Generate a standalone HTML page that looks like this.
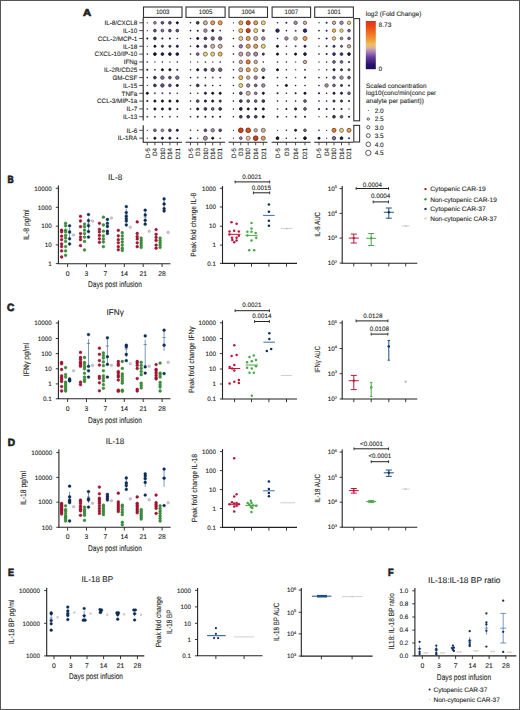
<!DOCTYPE html>
<html><head><meta charset="utf-8"><style>
html,body{margin:0;padding:0;background:#fff;}
body{width:520px;height:710px;overflow:hidden;}
svg{display:block;font-family:"Liberation Sans", sans-serif;}
text{stroke:#1e1e1e;stroke-width:0.1px;text-rendering:geometricPrecision;}
</style></head><body>
<svg width="520" height="710" viewBox="0 0 520 710">
<rect x="0" y="0" width="520" height="710" fill="#fff"/>
<text x="83" y="16.15" font-size="10" text-anchor="start" fill="#1e1e1e" font-weight="bold" textLength="8.2" lengthAdjust="spacingAndGlyphs" style="stroke-width:0.7px">A</text>
<text x="137.3" y="25.07" font-size="6.3" text-anchor="end" fill="#1e1e1e">IL-8/CXCL8</text>
<line x1="139.2" y1="22.8" x2="143" y2="22.8" stroke="#222" stroke-width="0.8"/>
<text x="137.3" y="32.9" font-size="6.3" text-anchor="end" fill="#1e1e1e">IL-10</text>
<line x1="139.2" y1="30.63" x2="143" y2="30.63" stroke="#222" stroke-width="0.8"/>
<text x="137.3" y="40.73" font-size="6.3" text-anchor="end" fill="#1e1e1e">CCL-2/MCP-1</text>
<line x1="139.2" y1="38.46" x2="143" y2="38.46" stroke="#222" stroke-width="0.8"/>
<text x="137.3" y="48.56" font-size="6.3" text-anchor="end" fill="#1e1e1e">IL-18</text>
<line x1="139.2" y1="46.29" x2="143" y2="46.29" stroke="#222" stroke-width="0.8"/>
<text x="137.3" y="56.39" font-size="6.3" text-anchor="end" fill="#1e1e1e">CXCL-10/IP-10</text>
<line x1="139.2" y1="54.12" x2="143" y2="54.12" stroke="#222" stroke-width="0.8"/>
<text x="137.3" y="64.22" font-size="6.3" text-anchor="end" fill="#1e1e1e">IFNg</text>
<line x1="139.2" y1="61.95" x2="143" y2="61.95" stroke="#222" stroke-width="0.8"/>
<text x="137.3" y="72.05" font-size="6.3" text-anchor="end" fill="#1e1e1e">IL-2R/CD25</text>
<line x1="139.2" y1="69.78" x2="143" y2="69.78" stroke="#222" stroke-width="0.8"/>
<text x="137.3" y="79.88" font-size="6.3" text-anchor="end" fill="#1e1e1e">GM-CSF</text>
<line x1="139.2" y1="77.61" x2="143" y2="77.61" stroke="#222" stroke-width="0.8"/>
<text x="137.3" y="87.71" font-size="6.3" text-anchor="end" fill="#1e1e1e">IL-15</text>
<line x1="139.2" y1="85.44" x2="143" y2="85.44" stroke="#222" stroke-width="0.8"/>
<text x="137.3" y="95.54" font-size="6.3" text-anchor="end" fill="#1e1e1e">TNFa</text>
<line x1="139.2" y1="93.27" x2="143" y2="93.27" stroke="#222" stroke-width="0.8"/>
<text x="137.3" y="103.37" font-size="6.3" text-anchor="end" fill="#1e1e1e">CCL-3/MIP-1a</text>
<line x1="139.2" y1="101.1" x2="143" y2="101.1" stroke="#222" stroke-width="0.8"/>
<text x="137.3" y="111.2" font-size="6.3" text-anchor="end" fill="#1e1e1e">IL-7</text>
<line x1="139.2" y1="108.93" x2="143" y2="108.93" stroke="#222" stroke-width="0.8"/>
<text x="137.3" y="119.03" font-size="6.3" text-anchor="end" fill="#1e1e1e">IL-13</text>
<line x1="139.2" y1="116.76" x2="143" y2="116.76" stroke="#222" stroke-width="0.8"/>
<text x="137.3" y="132.57" font-size="6.3" text-anchor="end" fill="#1e1e1e">IL-6</text>
<line x1="139.2" y1="130.3" x2="143" y2="130.3" stroke="#222" stroke-width="0.8"/>
<text x="137.3" y="140.47" font-size="6.3" text-anchor="end" fill="#1e1e1e">IL-1RA</text>
<line x1="139.2" y1="138.2" x2="143" y2="138.2" stroke="#222" stroke-width="0.8"/>
<line x1="143.2" y1="17.4" x2="143.2" y2="120.4" stroke="#222" stroke-width="1.1"/>
<line x1="143.2" y1="125.2" x2="143.2" y2="142.4" stroke="#222" stroke-width="1.1"/>
<rect x="143.5" y="7" width="38.5" height="10.4" fill="#fff" stroke="#333" stroke-width="1.1"/>
<text x="162.75" y="14.04" font-size="6.5" text-anchor="middle" fill="#1e1e1e" textLength="13.5" lengthAdjust="spacingAndGlyphs">1003</text>
<line x1="143" y1="142.3" x2="182" y2="142.3" stroke="#222" stroke-width="1.1"/>
<line x1="147.3" y1="142.3" x2="147.3" y2="145.3" stroke="#222" stroke-width="0.8"/>
<text x="0" y="0" font-size="6.3" text-anchor="end" fill="#1e1e1e" transform="translate(149.5 148) rotate(-90)">D-5</text>
<line x1="154.9" y1="142.3" x2="154.9" y2="145.3" stroke="#222" stroke-width="0.8"/>
<text x="0" y="0" font-size="6.3" text-anchor="end" fill="#1e1e1e" transform="translate(157.1 148) rotate(-90)">D4</text>
<line x1="162.4" y1="142.3" x2="162.4" y2="145.3" stroke="#222" stroke-width="0.8"/>
<text x="0" y="0" font-size="6.3" text-anchor="end" fill="#1e1e1e" transform="translate(164.6 148) rotate(-90)">D10</text>
<line x1="169.9" y1="142.3" x2="169.9" y2="145.3" stroke="#222" stroke-width="0.8"/>
<text x="0" y="0" font-size="6.3" text-anchor="end" fill="#1e1e1e" transform="translate(172.1 148) rotate(-90)">D14</text>
<line x1="177.3" y1="142.3" x2="177.3" y2="145.3" stroke="#222" stroke-width="0.8"/>
<text x="0" y="0" font-size="6.3" text-anchor="end" fill="#1e1e1e" transform="translate(179.5 148) rotate(-90)">D21</text>
<rect x="186" y="7" width="39.1" height="10.4" fill="#fff" stroke="#333" stroke-width="1.1"/>
<text x="205.55" y="14.04" font-size="6.5" text-anchor="middle" fill="#1e1e1e" textLength="13.5" lengthAdjust="spacingAndGlyphs">1005</text>
<line x1="185.5" y1="142.3" x2="225.1" y2="142.3" stroke="#222" stroke-width="1.1"/>
<line x1="190.5" y1="142.3" x2="190.5" y2="145.3" stroke="#222" stroke-width="0.8"/>
<text x="0" y="0" font-size="6.3" text-anchor="end" fill="#1e1e1e" transform="translate(192.7 148) rotate(-90)">D-5</text>
<line x1="197.7" y1="142.3" x2="197.7" y2="145.3" stroke="#222" stroke-width="0.8"/>
<text x="0" y="0" font-size="6.3" text-anchor="end" fill="#1e1e1e" transform="translate(199.9 148) rotate(-90)">D3</text>
<line x1="205.4" y1="142.3" x2="205.4" y2="145.3" stroke="#222" stroke-width="0.8"/>
<text x="0" y="0" font-size="6.3" text-anchor="end" fill="#1e1e1e" transform="translate(207.6 148) rotate(-90)">D10</text>
<line x1="212.7" y1="142.3" x2="212.7" y2="145.3" stroke="#222" stroke-width="0.8"/>
<text x="0" y="0" font-size="6.3" text-anchor="end" fill="#1e1e1e" transform="translate(214.9 148) rotate(-90)">D14</text>
<line x1="220.2" y1="142.3" x2="220.2" y2="145.3" stroke="#222" stroke-width="0.8"/>
<text x="0" y="0" font-size="6.3" text-anchor="end" fill="#1e1e1e" transform="translate(222.4 148) rotate(-90)">D21</text>
<rect x="229" y="7" width="38.5" height="10.4" fill="#fff" stroke="#333" stroke-width="1.1"/>
<text x="248.25" y="14.04" font-size="6.5" text-anchor="middle" fill="#1e1e1e" textLength="13.5" lengthAdjust="spacingAndGlyphs">1004</text>
<line x1="228.5" y1="142.3" x2="267.5" y2="142.3" stroke="#222" stroke-width="1.1"/>
<line x1="233.4" y1="142.3" x2="233.4" y2="145.3" stroke="#222" stroke-width="0.8"/>
<text x="0" y="0" font-size="6.3" text-anchor="end" fill="#1e1e1e" transform="translate(235.6 148) rotate(-90)">D-5</text>
<line x1="240.8" y1="142.3" x2="240.8" y2="145.3" stroke="#222" stroke-width="0.8"/>
<text x="0" y="0" font-size="6.3" text-anchor="end" fill="#1e1e1e" transform="translate(243 148) rotate(-90)">D3</text>
<line x1="248.2" y1="142.3" x2="248.2" y2="145.3" stroke="#222" stroke-width="0.8"/>
<text x="0" y="0" font-size="6.3" text-anchor="end" fill="#1e1e1e" transform="translate(250.4 148) rotate(-90)">D10</text>
<line x1="255.7" y1="142.3" x2="255.7" y2="145.3" stroke="#222" stroke-width="0.8"/>
<text x="0" y="0" font-size="6.3" text-anchor="end" fill="#1e1e1e" transform="translate(257.9 148) rotate(-90)">D14</text>
<line x1="263.3" y1="142.3" x2="263.3" y2="145.3" stroke="#222" stroke-width="0.8"/>
<text x="0" y="0" font-size="6.3" text-anchor="end" fill="#1e1e1e" transform="translate(265.5 148) rotate(-90)">D21</text>
<rect x="272.1" y="7" width="38.5" height="10.4" fill="#fff" stroke="#333" stroke-width="1.1"/>
<text x="291.35" y="14.04" font-size="6.5" text-anchor="middle" fill="#1e1e1e" textLength="13.5" lengthAdjust="spacingAndGlyphs">1007</text>
<line x1="271.6" y1="142.3" x2="310.6" y2="142.3" stroke="#222" stroke-width="1.1"/>
<line x1="277.5" y1="142.3" x2="277.5" y2="145.3" stroke="#222" stroke-width="0.8"/>
<text x="0" y="0" font-size="6.3" text-anchor="end" fill="#1e1e1e" transform="translate(279.7 148) rotate(-90)">D-5</text>
<line x1="286.4" y1="142.3" x2="286.4" y2="145.3" stroke="#222" stroke-width="0.8"/>
<text x="0" y="0" font-size="6.3" text-anchor="end" fill="#1e1e1e" transform="translate(288.6 148) rotate(-90)">D3</text>
<line x1="295.6" y1="142.3" x2="295.6" y2="145.3" stroke="#222" stroke-width="0.8"/>
<text x="0" y="0" font-size="6.3" text-anchor="end" fill="#1e1e1e" transform="translate(297.8 148) rotate(-90)">D14</text>
<line x1="305" y1="142.3" x2="305" y2="145.3" stroke="#222" stroke-width="0.8"/>
<text x="0" y="0" font-size="6.3" text-anchor="end" fill="#1e1e1e" transform="translate(307.2 148) rotate(-90)">D21</text>
<rect x="314.7" y="7" width="38.7" height="10.4" fill="#fff" stroke="#333" stroke-width="1.1"/>
<text x="334.05" y="14.04" font-size="6.5" text-anchor="middle" fill="#1e1e1e" textLength="13.5" lengthAdjust="spacingAndGlyphs">1001</text>
<line x1="314.2" y1="142.3" x2="353.4" y2="142.3" stroke="#222" stroke-width="1.1"/>
<line x1="319" y1="142.3" x2="319" y2="145.3" stroke="#222" stroke-width="0.8"/>
<text x="0" y="0" font-size="6.3" text-anchor="end" fill="#1e1e1e" transform="translate(321.2 148) rotate(-90)">D-5</text>
<line x1="326.6" y1="142.3" x2="326.6" y2="145.3" stroke="#222" stroke-width="0.8"/>
<text x="0" y="0" font-size="6.3" text-anchor="end" fill="#1e1e1e" transform="translate(328.8 148) rotate(-90)">D4</text>
<line x1="334" y1="142.3" x2="334" y2="145.3" stroke="#222" stroke-width="0.8"/>
<text x="0" y="0" font-size="6.3" text-anchor="end" fill="#1e1e1e" transform="translate(336.2 148) rotate(-90)">D10</text>
<line x1="341.5" y1="142.3" x2="341.5" y2="145.3" stroke="#222" stroke-width="0.8"/>
<text x="0" y="0" font-size="6.3" text-anchor="end" fill="#1e1e1e" transform="translate(343.7 148) rotate(-90)">D14</text>
<line x1="349" y1="142.3" x2="349" y2="145.3" stroke="#222" stroke-width="0.8"/>
<text x="0" y="0" font-size="6.3" text-anchor="end" fill="#1e1e1e" transform="translate(351.2 148) rotate(-90)">D21</text>
<rect x="353.8" y="18.6" width="5.8" height="102.2" fill="#fff" stroke="#333" stroke-width="1.1"/>
<rect x="353.8" y="125.4" width="5.8" height="16.6" fill="#fff" stroke="#333" stroke-width="1.1"/>
<circle cx="147.3" cy="22.8" r="0.6" fill="#1a1430"/>
<circle cx="154.9" cy="22.8" r="1.35" fill="#a890a8" stroke="#5c4f5c" stroke-width="0.95"/>
<circle cx="162.4" cy="22.8" r="1.35" fill="#685682" stroke="#392f47" stroke-width="0.95"/>
<circle cx="169.9" cy="22.8" r="1.35" fill="#685682" stroke="#392f47" stroke-width="0.95"/>
<circle cx="177.3" cy="22.8" r="1.05" fill="#1a1430" stroke="#0e0b1a" stroke-width="0.95"/>
<circle cx="147.3" cy="30.63" r="0.6" fill="#1a1430"/>
<circle cx="154.9" cy="30.63" r="1.35" fill="#685682" stroke="#392f47" stroke-width="0.95"/>
<circle cx="162.4" cy="30.63" r="1.35" fill="#857096" stroke="#493d52" stroke-width="0.95"/>
<circle cx="169.9" cy="30.63" r="1.35" fill="#685682" stroke="#392f47" stroke-width="0.95"/>
<circle cx="177.3" cy="30.63" r="1.35" fill="#685682" stroke="#392f47" stroke-width="0.95"/>
<circle cx="147.3" cy="38.46" r="1" fill="#1a1430"/>
<circle cx="154.9" cy="38.46" r="1.35" fill="#4a3e64" stroke="#282237" stroke-width="0.95"/>
<circle cx="162.4" cy="38.46" r="1" fill="#1a1430"/>
<circle cx="169.9" cy="38.46" r="1" fill="#1a1430"/>
<circle cx="177.3" cy="38.46" r="0.8" fill="#1a1430"/>
<circle cx="147.3" cy="46.29" r="0.6" fill="#1a1430"/>
<circle cx="154.9" cy="46.29" r="1.05" fill="#1a1430" stroke="#0e0b1a" stroke-width="0.95"/>
<circle cx="162.4" cy="46.29" r="1.05" fill="#4a3e64" stroke="#282237" stroke-width="0.95"/>
<circle cx="169.9" cy="46.29" r="1.05" fill="#4a3e64" stroke="#282237" stroke-width="0.95"/>
<circle cx="177.3" cy="46.29" r="1.05" fill="#2a2050" stroke="#17112c" stroke-width="0.95"/>
<circle cx="147.3" cy="54.12" r="0.8" fill="#1a1430"/>
<circle cx="154.9" cy="54.12" r="1.35" fill="#1a1430" stroke="#0e0b1a" stroke-width="0.95"/>
<circle cx="162.4" cy="54.12" r="1.35" fill="#2a2050" stroke="#17112c" stroke-width="0.95"/>
<circle cx="169.9" cy="54.12" r="1.35" fill="#2a2050" stroke="#17112c" stroke-width="0.95"/>
<circle cx="177.3" cy="54.12" r="1.35" fill="#2a2050" stroke="#17112c" stroke-width="0.95"/>
<circle cx="147.3" cy="61.95" r="0.8" fill="#1a1430"/>
<circle cx="154.9" cy="61.95" r="0.8" fill="#5a5460"/>
<circle cx="162.4" cy="61.95" r="0.8" fill="#1a1430"/>
<circle cx="169.9" cy="61.95" r="0.8" fill="#5a5460"/>
<circle cx="177.3" cy="61.95" r="0.8" fill="#1a1430"/>
<circle cx="147.3" cy="69.78" r="1" fill="#1a1430"/>
<circle cx="154.9" cy="69.78" r="1" fill="#5a5460"/>
<circle cx="162.4" cy="69.78" r="1.05" fill="#1a1430" stroke="#0e0b1a" stroke-width="0.95"/>
<circle cx="169.9" cy="69.78" r="1.05" fill="#1a1430" stroke="#0e0b1a" stroke-width="0.95"/>
<circle cx="177.3" cy="69.78" r="1" fill="#1a1430"/>
<circle cx="147.3" cy="77.61" r="0.8" fill="#1a1430"/>
<circle cx="154.9" cy="77.61" r="1.35" fill="#4a3e64" stroke="#282237" stroke-width="0.95"/>
<circle cx="162.4" cy="77.61" r="1.7" fill="#857096" stroke="#493d52" stroke-width="0.95"/>
<circle cx="169.9" cy="77.61" r="1.35" fill="#685682" stroke="#392f47" stroke-width="0.95"/>
<circle cx="177.3" cy="77.61" r="1.7" fill="#857096" stroke="#493d52" stroke-width="0.95"/>
<circle cx="147.3" cy="85.44" r="0.6" fill="#1a1430"/>
<circle cx="154.9" cy="85.44" r="1.35" fill="#4a3e64" stroke="#282237" stroke-width="0.95"/>
<circle cx="162.4" cy="85.44" r="1.7" fill="#685682" stroke="#392f47" stroke-width="0.95"/>
<circle cx="169.9" cy="85.44" r="1.35" fill="#685682" stroke="#392f47" stroke-width="0.95"/>
<circle cx="177.3" cy="85.44" r="1.05" fill="#1a1430" stroke="#0e0b1a" stroke-width="0.95"/>
<circle cx="147.3" cy="93.27" r="1.05" fill="#1a1430" stroke="#0e0b1a" stroke-width="0.95"/>
<circle cx="154.9" cy="93.27" r="1" fill="#5a5460"/>
<circle cx="162.4" cy="93.27" r="1" fill="#4a3e64"/>
<circle cx="169.9" cy="93.27" r="1" fill="#4a3e64"/>
<circle cx="177.3" cy="93.27" r="0.8" fill="#1a1430"/>
<circle cx="147.3" cy="101.1" r="1" fill="#1a1430"/>
<circle cx="154.9" cy="101.1" r="1.05" fill="#1a1430" stroke="#0e0b1a" stroke-width="0.95"/>
<circle cx="162.4" cy="101.1" r="1.05" fill="#1a1430" stroke="#0e0b1a" stroke-width="0.95"/>
<circle cx="169.9" cy="101.1" r="1.05" fill="#1a1430" stroke="#0e0b1a" stroke-width="0.95"/>
<circle cx="177.3" cy="101.1" r="1.05" fill="#1a1430" stroke="#0e0b1a" stroke-width="0.95"/>
<circle cx="147.3" cy="108.93" r="0.8" fill="#1a1430"/>
<circle cx="154.9" cy="108.93" r="1.05" fill="#1a1430" stroke="#0e0b1a" stroke-width="0.95"/>
<circle cx="162.4" cy="108.93" r="1.05" fill="#2a2050" stroke="#17112c" stroke-width="0.95"/>
<circle cx="169.9" cy="108.93" r="1.05" fill="#1a1430" stroke="#0e0b1a" stroke-width="0.95"/>
<circle cx="177.3" cy="108.93" r="1" fill="#1a1430"/>
<circle cx="147.3" cy="116.76" r="1" fill="#5a5460"/>
<circle cx="154.9" cy="116.76" r="1" fill="#5a5460"/>
<circle cx="162.4" cy="116.76" r="0.8" fill="#1a1430"/>
<circle cx="169.9" cy="116.76" r="1" fill="#5a5460"/>
<circle cx="177.3" cy="116.76" r="0.8" fill="#1a1430"/>
<circle cx="147.3" cy="130.3" r="0.6" fill="#1a1430"/>
<circle cx="154.9" cy="130.3" r="1.35" fill="#857096" stroke="#493d52" stroke-width="0.95"/>
<circle cx="162.4" cy="130.3" r="1.35" fill="#a890a8" stroke="#5c4f5c" stroke-width="0.95"/>
<circle cx="169.9" cy="130.3" r="1.35" fill="#685682" stroke="#392f47" stroke-width="0.95"/>
<circle cx="177.3" cy="130.3" r="1.05" fill="#2a2050" stroke="#17112c" stroke-width="0.95"/>
<circle cx="147.3" cy="138.2" r="0.6" fill="#1a1430"/>
<circle cx="154.9" cy="138.2" r="1.05" fill="#1a1430" stroke="#0e0b1a" stroke-width="0.95"/>
<circle cx="162.4" cy="138.2" r="1.05" fill="#2a2050" stroke="#17112c" stroke-width="0.95"/>
<circle cx="169.9" cy="138.2" r="1.05" fill="#2a2050" stroke="#17112c" stroke-width="0.95"/>
<circle cx="177.3" cy="138.2" r="1" fill="#1a1430"/>
<circle cx="190.5" cy="22.8" r="0.8" fill="#1a1430"/>
<circle cx="197.7" cy="22.8" r="1.35" fill="#4a3e64" stroke="#282237" stroke-width="0.95"/>
<circle cx="205.4" cy="22.8" r="2" fill="#ccb4a8" stroke="#70635c" stroke-width="0.95"/>
<circle cx="212.7" cy="22.8" r="2" fill="#e8a060" stroke="#7f5834" stroke-width="0.95"/>
<circle cx="220.2" cy="22.8" r="2" fill="#e8a060" stroke="#7f5834" stroke-width="0.95"/>
<circle cx="190.5" cy="30.63" r="0.8" fill="#1a1430"/>
<circle cx="197.7" cy="30.63" r="1" fill="#1a1430"/>
<circle cx="205.4" cy="30.63" r="1.7" fill="#a890a8" stroke="#5c4f5c" stroke-width="0.95"/>
<circle cx="212.7" cy="30.63" r="1.05" fill="#2a2050" stroke="#17112c" stroke-width="0.95"/>
<circle cx="220.2" cy="30.63" r="0.8" fill="#1a1430"/>
<circle cx="190.5" cy="38.46" r="0.8" fill="#1a1430"/>
<circle cx="197.7" cy="38.46" r="1.05" fill="#1a1430" stroke="#0e0b1a" stroke-width="0.95"/>
<circle cx="205.4" cy="38.46" r="1.35" fill="#4a3e64" stroke="#282237" stroke-width="0.95"/>
<circle cx="212.7" cy="38.46" r="1.7" fill="#786a86" stroke="#423a49" stroke-width="0.95"/>
<circle cx="220.2" cy="38.46" r="1.7" fill="#786a86" stroke="#423a49" stroke-width="0.95"/>
<circle cx="190.5" cy="46.29" r="0.8" fill="#1a1430"/>
<circle cx="197.7" cy="46.29" r="1.05" fill="#1a1430" stroke="#0e0b1a" stroke-width="0.95"/>
<circle cx="205.4" cy="46.29" r="1.35" fill="#685682" stroke="#392f47" stroke-width="0.95"/>
<circle cx="212.7" cy="46.29" r="2" fill="#ccb4a8" stroke="#70635c" stroke-width="0.95"/>
<circle cx="220.2" cy="46.29" r="2" fill="#ccb4a8" stroke="#70635c" stroke-width="0.95"/>
<circle cx="190.5" cy="54.12" r="0.8" fill="#1a1430"/>
<circle cx="197.7" cy="54.12" r="1.35" fill="#857096" stroke="#493d52" stroke-width="0.95"/>
<circle cx="205.4" cy="54.12" r="2" fill="#e8d088" stroke="#7f724a" stroke-width="0.95"/>
<circle cx="212.7" cy="54.12" r="2" fill="#e8d088" stroke="#7f724a" stroke-width="0.95"/>
<circle cx="220.2" cy="54.12" r="2" fill="#f0bc60" stroke="#846734" stroke-width="0.95"/>
<circle cx="190.5" cy="61.95" r="0.6" fill="#1a1430"/>
<circle cx="197.7" cy="61.95" r="0.8" fill="#5a5460"/>
<circle cx="205.4" cy="61.95" r="0.8" fill="#1a1430"/>
<circle cx="212.7" cy="61.95" r="0.8" fill="#5a5460"/>
<circle cx="220.2" cy="61.95" r="0.8" fill="#1a1430"/>
<circle cx="190.5" cy="69.78" r="0.8" fill="#1a1430"/>
<circle cx="197.7" cy="69.78" r="1.05" fill="#1a1430" stroke="#0e0b1a" stroke-width="0.95"/>
<circle cx="205.4" cy="69.78" r="1.35" fill="#4a3e64" stroke="#282237" stroke-width="0.95"/>
<circle cx="212.7" cy="69.78" r="1.7" fill="#786a86" stroke="#423a49" stroke-width="0.95"/>
<circle cx="220.2" cy="69.78" r="1.7" fill="#786a86" stroke="#423a49" stroke-width="0.95"/>
<circle cx="190.5" cy="77.61" r="0.8" fill="#1a1430"/>
<circle cx="197.7" cy="77.61" r="1" fill="#5a5460"/>
<circle cx="205.4" cy="77.61" r="0.8" fill="#1a1430"/>
<circle cx="212.7" cy="77.61" r="1" fill="#5a5460"/>
<circle cx="220.2" cy="77.61" r="0.8" fill="#1a1430"/>
<circle cx="190.5" cy="85.44" r="0.8" fill="#1a1430"/>
<circle cx="197.7" cy="85.44" r="1.35" fill="#4a3e64" stroke="#282237" stroke-width="0.95"/>
<circle cx="205.4" cy="85.44" r="1" fill="#1a1430"/>
<circle cx="212.7" cy="85.44" r="0.8" fill="#1a1430"/>
<circle cx="220.2" cy="85.44" r="0.8" fill="#1a1430"/>
<circle cx="190.5" cy="93.27" r="0.8" fill="#1a1430"/>
<circle cx="197.7" cy="93.27" r="0.8" fill="#1a1430"/>
<circle cx="205.4" cy="93.27" r="1.05" fill="#2a2050" stroke="#17112c" stroke-width="0.95"/>
<circle cx="212.7" cy="93.27" r="1.05" fill="#1a1430" stroke="#0e0b1a" stroke-width="0.95"/>
<circle cx="220.2" cy="93.27" r="1.05" fill="#1a1430" stroke="#0e0b1a" stroke-width="0.95"/>
<circle cx="190.5" cy="101.1" r="0.8" fill="#1a1430"/>
<circle cx="197.7" cy="101.1" r="1.35" fill="#685682" stroke="#392f47" stroke-width="0.95"/>
<circle cx="205.4" cy="101.1" r="1.05" fill="#2a2050" stroke="#17112c" stroke-width="0.95"/>
<circle cx="212.7" cy="101.1" r="1.05" fill="#2a2050" stroke="#17112c" stroke-width="0.95"/>
<circle cx="220.2" cy="101.1" r="1.05" fill="#4a3e64" stroke="#282237" stroke-width="0.95"/>
<circle cx="190.5" cy="108.93" r="0.8" fill="#1a1430"/>
<circle cx="197.7" cy="108.93" r="1.05" fill="#1a1430" stroke="#0e0b1a" stroke-width="0.95"/>
<circle cx="205.4" cy="108.93" r="1.35" fill="#4a3e64" stroke="#282237" stroke-width="0.95"/>
<circle cx="212.7" cy="108.93" r="1.35" fill="#786a86" stroke="#423a49" stroke-width="0.95"/>
<circle cx="220.2" cy="108.93" r="1.35" fill="#4a3e64" stroke="#282237" stroke-width="0.95"/>
<circle cx="190.5" cy="116.76" r="0.8" fill="#1a1430"/>
<circle cx="197.7" cy="116.76" r="1" fill="#1a1430"/>
<circle cx="205.4" cy="116.76" r="1" fill="#1a1430"/>
<circle cx="212.7" cy="116.76" r="1" fill="#1a1430"/>
<circle cx="220.2" cy="116.76" r="1" fill="#1a1430"/>
<circle cx="190.5" cy="130.3" r="0.8" fill="#1a1430"/>
<circle cx="197.7" cy="130.3" r="0.8" fill="#1a1430"/>
<circle cx="205.4" cy="130.3" r="1.35" fill="#685682" stroke="#392f47" stroke-width="0.95"/>
<circle cx="212.7" cy="130.3" r="1.7" fill="#a890a8" stroke="#5c4f5c" stroke-width="0.95"/>
<circle cx="220.2" cy="130.3" r="1.35" fill="#685682" stroke="#392f47" stroke-width="0.95"/>
<circle cx="190.5" cy="138.2" r="1" fill="#1a1430"/>
<circle cx="197.7" cy="138.2" r="0.8" fill="#5a5460"/>
<circle cx="205.4" cy="138.2" r="2" fill="#a890a8" stroke="#5c4f5c" stroke-width="0.95"/>
<circle cx="212.7" cy="138.2" r="1.05" fill="#1a1430" stroke="#0e0b1a" stroke-width="0.95"/>
<circle cx="220.2" cy="138.2" r="0.8" fill="#1a1430"/>
<circle cx="233.4" cy="22.8" r="0.6" fill="#1a1430"/>
<circle cx="240.8" cy="22.8" r="2" fill="#e8a060" stroke="#7f5834" stroke-width="0.95"/>
<circle cx="248.2" cy="22.8" r="2" fill="#dc5020" stroke="#792c11" stroke-width="0.95"/>
<circle cx="255.7" cy="22.8" r="2" fill="#e8a060" stroke="#7f5834" stroke-width="0.95"/>
<circle cx="263.3" cy="22.8" r="2" fill="#e8d088" stroke="#7f724a" stroke-width="0.95"/>
<circle cx="233.4" cy="30.63" r="0.6" fill="#1a1430"/>
<circle cx="240.8" cy="30.63" r="2" fill="#f0bc60" stroke="#846734" stroke-width="0.95"/>
<circle cx="248.2" cy="30.63" r="2" fill="#d4401a" stroke="#74230e" stroke-width="0.95"/>
<circle cx="255.7" cy="30.63" r="2" fill="#e8d088" stroke="#7f724a" stroke-width="0.95"/>
<circle cx="263.3" cy="30.63" r="1.05" fill="#685682" stroke="#392f47" stroke-width="0.95"/>
<circle cx="233.4" cy="38.46" r="0.8" fill="#1a1430"/>
<circle cx="240.8" cy="38.46" r="2" fill="#eec49a" stroke="#826b54" stroke-width="0.95"/>
<circle cx="248.2" cy="38.46" r="2" fill="#e8a060" stroke="#7f5834" stroke-width="0.95"/>
<circle cx="255.7" cy="38.46" r="2" fill="#ccb4a8" stroke="#70635c" stroke-width="0.95"/>
<circle cx="263.3" cy="38.46" r="1.7" fill="#a890a8" stroke="#5c4f5c" stroke-width="0.95"/>
<circle cx="233.4" cy="46.29" r="0.8" fill="#1a1430"/>
<circle cx="240.8" cy="46.29" r="1.7" fill="#a47aa8" stroke="#5a435c" stroke-width="0.95"/>
<circle cx="248.2" cy="46.29" r="2" fill="#e8a060" stroke="#7f5834" stroke-width="0.95"/>
<circle cx="255.7" cy="46.29" r="2" fill="#e8a060" stroke="#7f5834" stroke-width="0.95"/>
<circle cx="263.3" cy="46.29" r="2" fill="#e8d088" stroke="#7f724a" stroke-width="0.95"/>
<circle cx="233.4" cy="54.12" r="0.8" fill="#1a1430"/>
<circle cx="240.8" cy="54.12" r="2" fill="#c4a0ac" stroke="#6b585e" stroke-width="0.95"/>
<circle cx="248.2" cy="54.12" r="2" fill="#c4a0ac" stroke="#6b585e" stroke-width="0.95"/>
<circle cx="255.7" cy="54.12" r="2" fill="#a890a8" stroke="#5c4f5c" stroke-width="0.95"/>
<circle cx="263.3" cy="54.12" r="1.05" fill="#4a3e64" stroke="#282237" stroke-width="0.95"/>
<circle cx="233.4" cy="61.95" r="0.8" fill="#1a1430"/>
<circle cx="240.8" cy="61.95" r="1.7" fill="#ccb4a8" stroke="#70635c" stroke-width="0.95"/>
<circle cx="248.2" cy="61.95" r="2" fill="#e88038" stroke="#7f461e" stroke-width="0.95"/>
<circle cx="255.7" cy="61.95" r="1.7" fill="#ccb4a8" stroke="#70635c" stroke-width="0.95"/>
<circle cx="263.3" cy="61.95" r="0.8" fill="#1a1430"/>
<circle cx="233.4" cy="69.78" r="0.8" fill="#1a1430"/>
<circle cx="240.8" cy="69.78" r="2" fill="#ccb4a8" stroke="#70635c" stroke-width="0.95"/>
<circle cx="248.2" cy="69.78" r="2" fill="#e8a060" stroke="#7f5834" stroke-width="0.95"/>
<circle cx="255.7" cy="69.78" r="2" fill="#eec49a" stroke="#826b54" stroke-width="0.95"/>
<circle cx="263.3" cy="69.78" r="1.7" fill="#a890a8" stroke="#5c4f5c" stroke-width="0.95"/>
<circle cx="233.4" cy="77.61" r="0.8" fill="#1a1430"/>
<circle cx="240.8" cy="77.61" r="2" fill="#f0bc60" stroke="#846734" stroke-width="0.95"/>
<circle cx="248.2" cy="77.61" r="1.7" fill="#ccb4a8" stroke="#70635c" stroke-width="0.95"/>
<circle cx="255.7" cy="77.61" r="1.7" fill="#a890a8" stroke="#5c4f5c" stroke-width="0.95"/>
<circle cx="263.3" cy="77.61" r="1.05" fill="#1a1430" stroke="#0e0b1a" stroke-width="0.95"/>
<circle cx="233.4" cy="85.44" r="0.8" fill="#1a1430"/>
<circle cx="240.8" cy="85.44" r="2" fill="#e8d088" stroke="#7f724a" stroke-width="0.95"/>
<circle cx="248.2" cy="85.44" r="1.7" fill="#a890a8" stroke="#5c4f5c" stroke-width="0.95"/>
<circle cx="255.7" cy="85.44" r="1.35" fill="#786a86" stroke="#423a49" stroke-width="0.95"/>
<circle cx="263.3" cy="85.44" r="1.7" fill="#a890a8" stroke="#5c4f5c" stroke-width="0.95"/>
<circle cx="233.4" cy="93.27" r="0.8" fill="#1a1430"/>
<circle cx="240.8" cy="93.27" r="1.35" fill="#685682" stroke="#392f47" stroke-width="0.95"/>
<circle cx="248.2" cy="93.27" r="2" fill="#ccb4a8" stroke="#70635c" stroke-width="0.95"/>
<circle cx="255.7" cy="93.27" r="1.35" fill="#a47aa8" stroke="#5a435c" stroke-width="0.95"/>
<circle cx="263.3" cy="93.27" r="1.05" fill="#1a1430" stroke="#0e0b1a" stroke-width="0.95"/>
<circle cx="233.4" cy="101.1" r="0.8" fill="#1a1430"/>
<circle cx="240.8" cy="101.1" r="1.35" fill="#4a3e64" stroke="#282237" stroke-width="0.95"/>
<circle cx="248.2" cy="101.1" r="1.35" fill="#786a86" stroke="#423a49" stroke-width="0.95"/>
<circle cx="255.7" cy="101.1" r="1.35" fill="#786a86" stroke="#423a49" stroke-width="0.95"/>
<circle cx="263.3" cy="101.1" r="1.35" fill="#4a3e64" stroke="#282237" stroke-width="0.95"/>
<circle cx="233.4" cy="108.93" r="0.8" fill="#1a1430"/>
<circle cx="240.8" cy="108.93" r="1.35" fill="#2a2050" stroke="#17112c" stroke-width="0.95"/>
<circle cx="248.2" cy="108.93" r="1.05" fill="#1a1430" stroke="#0e0b1a" stroke-width="0.95"/>
<circle cx="255.7" cy="108.93" r="1.05" fill="#1a1430" stroke="#0e0b1a" stroke-width="0.95"/>
<circle cx="263.3" cy="108.93" r="1.05" fill="#1a1430" stroke="#0e0b1a" stroke-width="0.95"/>
<circle cx="233.4" cy="116.76" r="0.8" fill="#1a1430"/>
<circle cx="240.8" cy="116.76" r="1.35" fill="#4a3e64" stroke="#282237" stroke-width="0.95"/>
<circle cx="248.2" cy="116.76" r="1.35" fill="#4a3e64" stroke="#282237" stroke-width="0.95"/>
<circle cx="255.7" cy="116.76" r="1.35" fill="#4a3e64" stroke="#282237" stroke-width="0.95"/>
<circle cx="263.3" cy="116.76" r="1.05" fill="#1a1430" stroke="#0e0b1a" stroke-width="0.95"/>
<circle cx="233.4" cy="130.3" r="0.6" fill="#1a1430"/>
<circle cx="240.8" cy="130.3" r="2.3" fill="#d4401a" stroke="#74230e" stroke-width="0.95"/>
<circle cx="248.2" cy="130.3" r="2.3" fill="#dc5020" stroke="#792c11" stroke-width="0.95"/>
<circle cx="255.7" cy="130.3" r="1.7" fill="#ccb4a8" stroke="#70635c" stroke-width="0.95"/>
<circle cx="263.3" cy="130.3" r="2" fill="#ccb4a8" stroke="#70635c" stroke-width="0.95"/>
<circle cx="233.4" cy="138.2" r="0.6" fill="#1a1430"/>
<circle cx="240.8" cy="138.2" r="1.35" fill="#a47aa8" stroke="#5a435c" stroke-width="0.95"/>
<circle cx="248.2" cy="138.2" r="2" fill="#eec49a" stroke="#826b54" stroke-width="0.95"/>
<circle cx="255.7" cy="138.2" r="2.3" fill="#d4401a" stroke="#74230e" stroke-width="0.95"/>
<circle cx="263.3" cy="138.2" r="2" fill="#e8a060" stroke="#7f5834" stroke-width="0.95"/>
<circle cx="277.5" cy="22.8" r="0.8" fill="#1a1430"/>
<circle cx="286.4" cy="22.8" r="1" fill="#2a2050"/>
<circle cx="295.6" cy="22.8" r="1.7" fill="#a890a8" stroke="#5c4f5c" stroke-width="0.95"/>
<circle cx="305" cy="22.8" r="1.7" fill="#ccb4a8" stroke="#70635c" stroke-width="0.95"/>
<circle cx="277.5" cy="30.63" r="1.7" fill="#2c2470" stroke="#18133d" stroke-width="0.95"/>
<circle cx="286.4" cy="30.63" r="0.8" fill="#1a1430"/>
<circle cx="295.6" cy="30.63" r="1" fill="#4a3e64"/>
<circle cx="305" cy="30.63" r="1.7" fill="#2c2470" stroke="#18133d" stroke-width="0.95"/>
<circle cx="277.5" cy="38.46" r="0.8" fill="#1a1430"/>
<circle cx="286.4" cy="38.46" r="1.7" fill="#a890a8" stroke="#5c4f5c" stroke-width="0.95"/>
<circle cx="295.6" cy="38.46" r="1.7" fill="#ccb4a8" stroke="#70635c" stroke-width="0.95"/>
<circle cx="305" cy="38.46" r="2" fill="#e8a060" stroke="#7f5834" stroke-width="0.95"/>
<circle cx="277.5" cy="46.29" r="1.05" fill="#1a1430" stroke="#0e0b1a" stroke-width="0.95"/>
<circle cx="286.4" cy="46.29" r="0.8" fill="#1a1430"/>
<circle cx="295.6" cy="46.29" r="1" fill="#4a3e64"/>
<circle cx="305" cy="46.29" r="1.05" fill="#2c2470" stroke="#18133d" stroke-width="0.95"/>
<circle cx="277.5" cy="54.12" r="1.05" fill="#1a1430" stroke="#0e0b1a" stroke-width="0.95"/>
<circle cx="286.4" cy="54.12" r="0.8" fill="#1a1430"/>
<circle cx="295.6" cy="54.12" r="1.05" fill="#1a1430" stroke="#0e0b1a" stroke-width="0.95"/>
<circle cx="305" cy="54.12" r="1.35" fill="#2a2050" stroke="#17112c" stroke-width="0.95"/>
<circle cx="277.5" cy="61.95" r="0.8" fill="#1a1430"/>
<circle cx="286.4" cy="61.95" r="0.8" fill="#1a1430"/>
<circle cx="295.6" cy="61.95" r="0.8" fill="#5a5460"/>
<circle cx="305" cy="61.95" r="1.7" fill="#ccb4a8" stroke="#70635c" stroke-width="0.95"/>
<circle cx="277.5" cy="69.78" r="1.05" fill="#1a1430" stroke="#0e0b1a" stroke-width="0.95"/>
<circle cx="286.4" cy="69.78" r="0.8" fill="#1a1430"/>
<circle cx="295.6" cy="69.78" r="0.8" fill="#5a5460"/>
<circle cx="305" cy="69.78" r="1" fill="#4a3e64"/>
<circle cx="277.5" cy="77.61" r="0.8" fill="#1a1430"/>
<circle cx="286.4" cy="77.61" r="0.8" fill="#1a1430"/>
<circle cx="295.6" cy="77.61" r="0.8" fill="#5a5460"/>
<circle cx="305" cy="77.61" r="1" fill="#1a1430"/>
<circle cx="277.5" cy="85.44" r="0.8" fill="#1a1430"/>
<circle cx="286.4" cy="85.44" r="1.05" fill="#1a1430" stroke="#0e0b1a" stroke-width="0.95"/>
<circle cx="295.6" cy="85.44" r="0.8" fill="#1a1430"/>
<circle cx="305" cy="85.44" r="0.8" fill="#1a1430"/>
<circle cx="277.5" cy="93.27" r="1" fill="#1a1430"/>
<circle cx="286.4" cy="93.27" r="0.8" fill="#1a1430"/>
<circle cx="295.6" cy="93.27" r="1" fill="#1a1430"/>
<circle cx="305" cy="93.27" r="1.05" fill="#1a1430" stroke="#0e0b1a" stroke-width="0.95"/>
<circle cx="277.5" cy="101.1" r="0.8" fill="#1a1430"/>
<circle cx="286.4" cy="101.1" r="0.8" fill="#1a1430"/>
<circle cx="295.6" cy="101.1" r="0.8" fill="#1a1430"/>
<circle cx="305" cy="101.1" r="1.35" fill="#786a86" stroke="#423a49" stroke-width="0.95"/>
<circle cx="277.5" cy="108.93" r="0.8" fill="#1a1430"/>
<circle cx="286.4" cy="108.93" r="1" fill="#1a1430"/>
<circle cx="295.6" cy="108.93" r="1.05" fill="#2a2050" stroke="#17112c" stroke-width="0.95"/>
<circle cx="305" cy="108.93" r="1.35" fill="#786a86" stroke="#423a49" stroke-width="0.95"/>
<circle cx="277.5" cy="116.76" r="1" fill="#1a1430"/>
<circle cx="286.4" cy="116.76" r="0.8" fill="#1a1430"/>
<circle cx="295.6" cy="116.76" r="1" fill="#1a1430"/>
<circle cx="305" cy="116.76" r="1" fill="#1a1430"/>
<circle cx="277.5" cy="130.3" r="0.6" fill="#1a1430"/>
<circle cx="286.4" cy="130.3" r="0.8" fill="#1a1430"/>
<circle cx="295.6" cy="130.3" r="1.05" fill="#2a2050" stroke="#17112c" stroke-width="0.95"/>
<circle cx="305" cy="130.3" r="1.35" fill="#786a86" stroke="#423a49" stroke-width="0.95"/>
<circle cx="277.5" cy="138.2" r="1.35" fill="#1a1430" stroke="#0e0b1a" stroke-width="0.95"/>
<circle cx="286.4" cy="138.2" r="0.8" fill="#1a1430"/>
<circle cx="295.6" cy="138.2" r="0.8" fill="#1a1430"/>
<circle cx="305" cy="138.2" r="1.35" fill="#1a1430" stroke="#0e0b1a" stroke-width="0.95"/>
<circle cx="319" cy="22.8" r="0.8" fill="#5a5460"/>
<circle cx="326.6" cy="22.8" r="1" fill="#2c2470"/>
<circle cx="334" cy="22.8" r="1.7" fill="#ccb4a8" stroke="#70635c" stroke-width="0.95"/>
<circle cx="341.5" cy="22.8" r="1.7" fill="#a890a8" stroke="#5c4f5c" stroke-width="0.95"/>
<circle cx="349" cy="22.8" r="1.7" fill="#e8d088" stroke="#7f724a" stroke-width="0.95"/>
<circle cx="319" cy="30.63" r="0.8" fill="#1a1430"/>
<circle cx="326.6" cy="30.63" r="1" fill="#2c2470"/>
<circle cx="334" cy="30.63" r="1.7" fill="#f0bc60" stroke="#846734" stroke-width="0.95"/>
<circle cx="341.5" cy="30.63" r="1.7" fill="#e8d088" stroke="#7f724a" stroke-width="0.95"/>
<circle cx="349" cy="30.63" r="1.35" fill="#857096" stroke="#493d52" stroke-width="0.95"/>
<circle cx="319" cy="38.46" r="0.8" fill="#1a1430"/>
<circle cx="326.6" cy="38.46" r="1" fill="#1a1430"/>
<circle cx="334" cy="38.46" r="1.7" fill="#eec49a" stroke="#826b54" stroke-width="0.95"/>
<circle cx="341.5" cy="38.46" r="1.35" fill="#a890a8" stroke="#5c4f5c" stroke-width="0.95"/>
<circle cx="349" cy="38.46" r="1.35" fill="#857096" stroke="#493d52" stroke-width="0.95"/>
<circle cx="319" cy="46.29" r="0.8" fill="#5a5460"/>
<circle cx="326.6" cy="46.29" r="1" fill="#1a1430"/>
<circle cx="334" cy="46.29" r="1.05" fill="#4a3888" stroke="#281e4a" stroke-width="0.95"/>
<circle cx="341.5" cy="46.29" r="1.05" fill="#786a86" stroke="#423a49" stroke-width="0.95"/>
<circle cx="349" cy="46.29" r="1.7" fill="#ccb4a8" stroke="#70635c" stroke-width="0.95"/>
<circle cx="319" cy="54.12" r="0.8" fill="#1a1430"/>
<circle cx="326.6" cy="54.12" r="1" fill="#1a1430"/>
<circle cx="334" cy="54.12" r="1.35" fill="#4a3888" stroke="#281e4a" stroke-width="0.95"/>
<circle cx="341.5" cy="54.12" r="1.35" fill="#4a3888" stroke="#281e4a" stroke-width="0.95"/>
<circle cx="349" cy="54.12" r="1.35" fill="#2a2050" stroke="#17112c" stroke-width="0.95"/>
<circle cx="319" cy="61.95" r="0.8" fill="#5a5460"/>
<circle cx="326.6" cy="61.95" r="0.8" fill="#1a1430"/>
<circle cx="334" cy="61.95" r="1.35" fill="#857096" stroke="#493d52" stroke-width="0.95"/>
<circle cx="341.5" cy="61.95" r="1.35" fill="#857096" stroke="#493d52" stroke-width="0.95"/>
<circle cx="349" cy="61.95" r="1" fill="#1a1430"/>
<circle cx="319" cy="69.78" r="0.8" fill="#5a5460"/>
<circle cx="326.6" cy="69.78" r="0.8" fill="#1a1430"/>
<circle cx="334" cy="69.78" r="1.05" fill="#2a2050" stroke="#17112c" stroke-width="0.95"/>
<circle cx="341.5" cy="69.78" r="1.05" fill="#4a3e64" stroke="#282237" stroke-width="0.95"/>
<circle cx="349" cy="69.78" r="1.05" fill="#786a86" stroke="#423a49" stroke-width="0.95"/>
<circle cx="319" cy="77.61" r="0.8" fill="#1a1430"/>
<circle cx="326.6" cy="77.61" r="0.8" fill="#1a1430"/>
<circle cx="334" cy="77.61" r="1.35" fill="#857096" stroke="#493d52" stroke-width="0.95"/>
<circle cx="341.5" cy="77.61" r="1.7" fill="#a890a8" stroke="#5c4f5c" stroke-width="0.95"/>
<circle cx="349" cy="77.61" r="1.35" fill="#786a86" stroke="#423a49" stroke-width="0.95"/>
<circle cx="319" cy="85.44" r="0.8" fill="#1a1430"/>
<circle cx="326.6" cy="85.44" r="1.7" fill="#a890a8" stroke="#5c4f5c" stroke-width="0.95"/>
<circle cx="334" cy="85.44" r="1.35" fill="#857096" stroke="#493d52" stroke-width="0.95"/>
<circle cx="341.5" cy="85.44" r="1.05" fill="#4a3888" stroke="#281e4a" stroke-width="0.95"/>
<circle cx="349" cy="85.44" r="1" fill="#1a1430"/>
<circle cx="319" cy="93.27" r="1" fill="#1a1430"/>
<circle cx="326.6" cy="93.27" r="0.8" fill="#1a1430"/>
<circle cx="334" cy="93.27" r="1.05" fill="#2a2050" stroke="#17112c" stroke-width="0.95"/>
<circle cx="341.5" cy="93.27" r="1.05" fill="#2a2050" stroke="#17112c" stroke-width="0.95"/>
<circle cx="349" cy="93.27" r="1.35" fill="#857096" stroke="#493d52" stroke-width="0.95"/>
<circle cx="319" cy="101.1" r="0.8" fill="#1a1430"/>
<circle cx="326.6" cy="101.1" r="0.8" fill="#1a1430"/>
<circle cx="334" cy="101.1" r="1.05" fill="#4a3e64" stroke="#282237" stroke-width="0.95"/>
<circle cx="341.5" cy="101.1" r="1.05" fill="#4a3e64" stroke="#282237" stroke-width="0.95"/>
<circle cx="349" cy="101.1" r="1" fill="#1a1430"/>
<circle cx="319" cy="108.93" r="1" fill="#1a1430"/>
<circle cx="326.6" cy="108.93" r="1" fill="#1a1430"/>
<circle cx="334" cy="108.93" r="1" fill="#1a1430"/>
<circle cx="341.5" cy="108.93" r="1" fill="#1a1430"/>
<circle cx="349" cy="108.93" r="0.8" fill="#5a5460"/>
<circle cx="319" cy="116.76" r="0.8" fill="#5a5460"/>
<circle cx="326.6" cy="116.76" r="0.8" fill="#1a1430"/>
<circle cx="334" cy="116.76" r="1.35" fill="#4a3e64" stroke="#282237" stroke-width="0.95"/>
<circle cx="341.5" cy="116.76" r="1.35" fill="#786a86" stroke="#423a49" stroke-width="0.95"/>
<circle cx="349" cy="116.76" r="1" fill="#1a1430"/>
<circle cx="319" cy="130.3" r="0.8" fill="#1a1430"/>
<circle cx="326.6" cy="130.3" r="0.6" fill="#1a1430"/>
<circle cx="334" cy="130.3" r="2" fill="#e88038" stroke="#7f461e" stroke-width="0.95"/>
<circle cx="341.5" cy="130.3" r="2" fill="#e8d088" stroke="#7f724a" stroke-width="0.95"/>
<circle cx="349" cy="130.3" r="2" fill="#e8a060" stroke="#7f5834" stroke-width="0.95"/>
<circle cx="319" cy="138.2" r="1.05" fill="#1a1430" stroke="#0e0b1a" stroke-width="0.95"/>
<circle cx="326.6" cy="138.2" r="0.6" fill="#1a1430"/>
<circle cx="334" cy="138.2" r="1.7" fill="#857096" stroke="#493d52" stroke-width="0.95"/>
<circle cx="341.5" cy="138.2" r="1.35" fill="#2a2050" stroke="#17112c" stroke-width="0.95"/>
<circle cx="349" cy="138.2" r="1" fill="#2c2470"/>
<text x="365.8" y="16.24" font-size="6.5" text-anchor="start" fill="#1e1e1e" textLength="55.5" lengthAdjust="spacingAndGlyphs">log2 (Fold Change)</text>
<defs><linearGradient id="cb" x1="0" y1="1" x2="0" y2="0"><stop offset="0" stop-color="#1e0c5a"/><stop offset="0.1" stop-color="#2a1470"/><stop offset="0.25" stop-color="#6a3ca0"/><stop offset="0.36" stop-color="#a880b8"/><stop offset="0.44" stop-color="#d8b0a8"/><stop offset="0.51" stop-color="#f0c058"/><stop offset="0.62" stop-color="#f09838"/><stop offset="0.75" stop-color="#f07020"/><stop offset="0.88" stop-color="#e84818"/><stop offset="1" stop-color="#e03018"/></linearGradient></defs>
<rect x="365.8" y="21" width="10" height="48.2" fill="url(#cb)"/>
<text x="378.6" y="26.94" font-size="6.5" text-anchor="start" fill="#1e1e1e">8.73</text>
<text x="378.6" y="70.94" font-size="6.5" text-anchor="start" fill="#1e1e1e">0</text>
<text x="366" y="87.64" font-size="6.5" text-anchor="start" fill="#1e1e1e" textLength="60.6" lengthAdjust="spacingAndGlyphs">Scaled concentration</text>
<text x="366" y="95.34" font-size="6.5" text-anchor="start" fill="#1e1e1e" textLength="70.2" lengthAdjust="spacingAndGlyphs">log10(conc/min(conc per</text>
<text x="366" y="102.84" font-size="6.5" text-anchor="start" fill="#1e1e1e">analyte per patient))</text>
<circle cx="368.3" cy="110.4" r="0.5" fill="#333"/>
<text x="374.7" y="112.74" font-size="6.5" text-anchor="start" fill="#1e1e1e">2.0</text>
<circle cx="368.3" cy="119" r="1.2" fill="none" stroke="#333" stroke-width="0.8"/>
<text x="374.7" y="121.34" font-size="6.5" text-anchor="start" fill="#1e1e1e">2.5</text>
<circle cx="368.3" cy="127.3" r="1.6" fill="none" stroke="#333" stroke-width="0.8"/>
<text x="374.7" y="129.64" font-size="6.5" text-anchor="start" fill="#1e1e1e">3.0</text>
<circle cx="368.3" cy="135.6" r="1.95" fill="none" stroke="#333" stroke-width="0.8"/>
<text x="374.7" y="137.94" font-size="6.5" text-anchor="start" fill="#1e1e1e">3.5</text>
<circle cx="368.3" cy="144.3" r="2.3" fill="none" stroke="#333" stroke-width="0.8"/>
<text x="374.7" y="146.64" font-size="6.5" text-anchor="start" fill="#1e1e1e">4.0</text>
<circle cx="368.3" cy="152.9" r="2.65" fill="none" stroke="#333" stroke-width="0.8"/>
<text x="374.7" y="155.24" font-size="6.5" text-anchor="start" fill="#1e1e1e">4.5</text>
<text x="7.6" y="182.88" font-size="10.5" text-anchor="start" fill="#1e1e1e" font-weight="bold" textLength="6.2" lengthAdjust="spacingAndGlyphs" style="stroke-width:0.7px">B</text>
<text x="115.15" y="180.05" font-size="8.2" text-anchor="middle" fill="#1e1e1e" textLength="14.1" lengthAdjust="spacingAndGlyphs">IL-8</text>
<line x1="58.4" y1="185.5" x2="58.4" y2="263.8" stroke="#222" stroke-width="1.1"/>
<line x1="55.8" y1="188.3" x2="58.4" y2="188.3" stroke="#222" stroke-width="0.9"/>
<text x="51.8" y="190.57" font-size="6.3" text-anchor="end" fill="#1e1e1e">10000</text>
<line x1="55.8" y1="207.3" x2="58.4" y2="207.3" stroke="#222" stroke-width="0.9"/>
<text x="51.8" y="209.57" font-size="6.3" text-anchor="end" fill="#1e1e1e">1000</text>
<line x1="55.8" y1="226.2" x2="58.4" y2="226.2" stroke="#222" stroke-width="0.9"/>
<text x="51.8" y="228.47" font-size="6.3" text-anchor="end" fill="#1e1e1e">100</text>
<line x1="55.8" y1="244.9" x2="58.4" y2="244.9" stroke="#222" stroke-width="0.9"/>
<text x="51.8" y="247.17" font-size="6.3" text-anchor="end" fill="#1e1e1e">10</text>
<line x1="55.8" y1="263.6" x2="58.4" y2="263.6" stroke="#222" stroke-width="0.9"/>
<text x="51.8" y="265.87" font-size="6.3" text-anchor="end" fill="#1e1e1e">1</text>
<line x1="57.9" y1="263.8" x2="170.5" y2="263.8" stroke="#222" stroke-width="1.1"/>
<line x1="67.6" y1="263.8" x2="67.6" y2="267" stroke="#222" stroke-width="0.9"/>
<text x="67.6" y="275.65" font-size="6.8" text-anchor="middle" fill="#1e1e1e">0</text>
<line x1="86.5" y1="263.8" x2="86.5" y2="267" stroke="#222" stroke-width="0.9"/>
<text x="86.5" y="275.65" font-size="6.8" text-anchor="middle" fill="#1e1e1e">3</text>
<line x1="105.4" y1="263.8" x2="105.4" y2="267" stroke="#222" stroke-width="0.9"/>
<text x="105.4" y="275.65" font-size="6.8" text-anchor="middle" fill="#1e1e1e">7</text>
<line x1="124.3" y1="263.8" x2="124.3" y2="267" stroke="#222" stroke-width="0.9"/>
<text x="124.3" y="275.65" font-size="6.8" text-anchor="middle" fill="#1e1e1e">14</text>
<line x1="143.2" y1="263.8" x2="143.2" y2="267" stroke="#222" stroke-width="0.9"/>
<text x="143.2" y="275.65" font-size="6.8" text-anchor="middle" fill="#1e1e1e">21</text>
<line x1="162.1" y1="263.8" x2="162.1" y2="267" stroke="#222" stroke-width="0.9"/>
<text x="162.1" y="275.65" font-size="6.8" text-anchor="middle" fill="#1e1e1e">28</text>
<text x="115" y="287.25" font-size="8.2" text-anchor="middle" fill="#1e1e1e" textLength="53.8" lengthAdjust="spacingAndGlyphs">Days post infusion</text>
<text x="26" y="227.48" font-size="8" text-anchor="middle" fill="#1e1e1e" textLength="30.4" lengthAdjust="spacingAndGlyphs" transform="rotate(-90 26 224.6)">IL-8 pg/ml</text>
<circle cx="61.6" cy="230.2" r="1.4" fill="#b01232" stroke="#840d25" stroke-width="0.4"/>
<circle cx="61.6" cy="231.9" r="1.4" fill="#b01232" stroke="#840d25" stroke-width="0.4"/>
<circle cx="61.6" cy="236.2" r="1.4" fill="#b01232" stroke="#840d25" stroke-width="0.4"/>
<circle cx="61.6" cy="239.7" r="1.4" fill="#b01232" stroke="#840d25" stroke-width="0.4"/>
<circle cx="61.6" cy="244" r="1.4" fill="#b01232" stroke="#840d25" stroke-width="0.4"/>
<circle cx="61.6" cy="246.6" r="1.4" fill="#b01232" stroke="#840d25" stroke-width="0.4"/>
<circle cx="61.6" cy="250.9" r="1.4" fill="#b01232" stroke="#840d25" stroke-width="0.4"/>
<circle cx="61.6" cy="257" r="1.4" fill="#b01232" stroke="#840d25" stroke-width="0.4"/>
<circle cx="65.6" cy="223.3" r="1.4" fill="#36983a" stroke="#28722b" stroke-width="0.4"/>
<circle cx="65.6" cy="225.8" r="1.4" fill="#36983a" stroke="#28722b" stroke-width="0.4"/>
<circle cx="65.6" cy="230.2" r="1.4" fill="#36983a" stroke="#28722b" stroke-width="0.4"/>
<circle cx="65.6" cy="231.9" r="1.4" fill="#36983a" stroke="#28722b" stroke-width="0.4"/>
<circle cx="65.6" cy="235.4" r="1.4" fill="#36983a" stroke="#28722b" stroke-width="0.4"/>
<circle cx="65.6" cy="238" r="1.4" fill="#36983a" stroke="#28722b" stroke-width="0.4"/>
<circle cx="65.6" cy="241.4" r="1.4" fill="#36983a" stroke="#28722b" stroke-width="0.4"/>
<circle cx="65.6" cy="246.6" r="1.4" fill="#36983a" stroke="#28722b" stroke-width="0.4"/>
<circle cx="65.6" cy="250.9" r="1.4" fill="#36983a" stroke="#28722b" stroke-width="0.4"/>
<circle cx="65.6" cy="255.3" r="1.4" fill="#36983a" stroke="#28722b" stroke-width="0.4"/>
<line x1="69.6" y1="228" x2="69.6" y2="240" stroke="#426fa0" stroke-width="0.7"/>
<line x1="68" y1="233" x2="71.2" y2="233" stroke="#426fa0" stroke-width="0.7"/>
<circle cx="69.6" cy="225.8" r="1.4" fill="#0d2f5a" stroke="#092343" stroke-width="0.4"/>
<circle cx="69.6" cy="231.9" r="1.4" fill="#0d2f5a" stroke="#092343" stroke-width="0.4"/>
<circle cx="69.6" cy="238.8" r="1.4" fill="#0d2f5a" stroke="#092343" stroke-width="0.4"/>
<circle cx="69.6" cy="244" r="1.4" fill="#0d2f5a" stroke="#092343" stroke-width="0.4"/>
<circle cx="73.6" cy="235" r="1.3" fill="#d2c4d0" stroke="#9d939c" stroke-width="0.4"/>
<circle cx="80.5" cy="216.3" r="1.4" fill="#b01232" stroke="#840d25" stroke-width="0.4"/>
<circle cx="80.5" cy="221" r="1.4" fill="#b01232" stroke="#840d25" stroke-width="0.4"/>
<circle cx="80.5" cy="226.7" r="1.4" fill="#b01232" stroke="#840d25" stroke-width="0.4"/>
<circle cx="80.5" cy="233.6" r="1.4" fill="#b01232" stroke="#840d25" stroke-width="0.4"/>
<circle cx="80.5" cy="237.1" r="1.4" fill="#b01232" stroke="#840d25" stroke-width="0.4"/>
<circle cx="80.5" cy="239.7" r="1.4" fill="#b01232" stroke="#840d25" stroke-width="0.4"/>
<circle cx="80.5" cy="245.7" r="1.4" fill="#b01232" stroke="#840d25" stroke-width="0.4"/>
<circle cx="84.5" cy="224.1" r="1.4" fill="#36983a" stroke="#28722b" stroke-width="0.4"/>
<circle cx="84.5" cy="226.7" r="1.4" fill="#36983a" stroke="#28722b" stroke-width="0.4"/>
<circle cx="84.5" cy="230.2" r="1.4" fill="#36983a" stroke="#28722b" stroke-width="0.4"/>
<circle cx="84.5" cy="233.6" r="1.4" fill="#36983a" stroke="#28722b" stroke-width="0.4"/>
<circle cx="84.5" cy="237.1" r="1.4" fill="#36983a" stroke="#28722b" stroke-width="0.4"/>
<circle cx="84.5" cy="241.4" r="1.4" fill="#36983a" stroke="#28722b" stroke-width="0.4"/>
<circle cx="84.5" cy="250" r="1.4" fill="#36983a" stroke="#28722b" stroke-width="0.4"/>
<line x1="88.5" y1="218" x2="88.5" y2="232" stroke="#426fa0" stroke-width="0.7"/>
<line x1="86.9" y1="224" x2="90.1" y2="224" stroke="#426fa0" stroke-width="0.7"/>
<circle cx="88.5" cy="214.6" r="1.4" fill="#0d2f5a" stroke="#092343" stroke-width="0.4"/>
<circle cx="88.5" cy="220.7" r="1.4" fill="#0d2f5a" stroke="#092343" stroke-width="0.4"/>
<circle cx="88.5" cy="225.8" r="1.4" fill="#0d2f5a" stroke="#092343" stroke-width="0.4"/>
<circle cx="88.5" cy="231.6" r="1.4" fill="#0d2f5a" stroke="#092343" stroke-width="0.4"/>
<circle cx="88.5" cy="237.1" r="1.4" fill="#0d2f5a" stroke="#092343" stroke-width="0.4"/>
<circle cx="92.5" cy="221" r="1.3" fill="#d2c4d0" stroke="#9d939c" stroke-width="0.4"/>
<circle cx="99.4" cy="223.3" r="1.4" fill="#b01232" stroke="#840d25" stroke-width="0.4"/>
<circle cx="99.4" cy="229.3" r="1.4" fill="#b01232" stroke="#840d25" stroke-width="0.4"/>
<circle cx="99.4" cy="231.9" r="1.4" fill="#b01232" stroke="#840d25" stroke-width="0.4"/>
<circle cx="99.4" cy="235.4" r="1.4" fill="#b01232" stroke="#840d25" stroke-width="0.4"/>
<circle cx="99.4" cy="238.8" r="1.4" fill="#b01232" stroke="#840d25" stroke-width="0.4"/>
<circle cx="99.4" cy="242.3" r="1.4" fill="#b01232" stroke="#840d25" stroke-width="0.4"/>
<circle cx="103.4" cy="217.2" r="1.4" fill="#36983a" stroke="#28722b" stroke-width="0.4"/>
<circle cx="103.4" cy="225" r="1.4" fill="#36983a" stroke="#28722b" stroke-width="0.4"/>
<circle cx="103.4" cy="231.2" r="1.4" fill="#36983a" stroke="#28722b" stroke-width="0.4"/>
<circle cx="103.4" cy="235.8" r="1.4" fill="#36983a" stroke="#28722b" stroke-width="0.4"/>
<circle cx="103.4" cy="239" r="1.4" fill="#36983a" stroke="#28722b" stroke-width="0.4"/>
<circle cx="103.4" cy="242" r="1.4" fill="#36983a" stroke="#28722b" stroke-width="0.4"/>
<circle cx="103.4" cy="246.7" r="1.4" fill="#36983a" stroke="#28722b" stroke-width="0.4"/>
<circle cx="107.4" cy="219.5" r="1.4" fill="#0d2f5a" stroke="#092343" stroke-width="0.4"/>
<circle cx="107.4" cy="223.4" r="1.4" fill="#0d2f5a" stroke="#092343" stroke-width="0.4"/>
<circle cx="107.4" cy="226.5" r="1.4" fill="#0d2f5a" stroke="#092343" stroke-width="0.4"/>
<circle cx="107.4" cy="231.2" r="1.4" fill="#0d2f5a" stroke="#092343" stroke-width="0.4"/>
<circle cx="107.4" cy="233.5" r="1.4" fill="#0d2f5a" stroke="#092343" stroke-width="0.4"/>
<circle cx="111.4" cy="218" r="1.3" fill="#d2c4d0" stroke="#9d939c" stroke-width="0.4"/>
<circle cx="118.3" cy="230.4" r="1.4" fill="#b01232" stroke="#840d25" stroke-width="0.4"/>
<circle cx="118.3" cy="235.8" r="1.4" fill="#b01232" stroke="#840d25" stroke-width="0.4"/>
<circle cx="118.3" cy="239.7" r="1.4" fill="#b01232" stroke="#840d25" stroke-width="0.4"/>
<circle cx="118.3" cy="242.8" r="1.4" fill="#b01232" stroke="#840d25" stroke-width="0.4"/>
<circle cx="118.3" cy="246.7" r="1.4" fill="#b01232" stroke="#840d25" stroke-width="0.4"/>
<circle cx="118.3" cy="249.8" r="1.4" fill="#b01232" stroke="#840d25" stroke-width="0.4"/>
<circle cx="122.3" cy="232.7" r="1.4" fill="#36983a" stroke="#28722b" stroke-width="0.4"/>
<circle cx="122.3" cy="235.8" r="1.4" fill="#36983a" stroke="#28722b" stroke-width="0.4"/>
<circle cx="122.3" cy="238.9" r="1.4" fill="#36983a" stroke="#28722b" stroke-width="0.4"/>
<circle cx="122.3" cy="242" r="1.4" fill="#36983a" stroke="#28722b" stroke-width="0.4"/>
<circle cx="122.3" cy="245.1" r="1.4" fill="#36983a" stroke="#28722b" stroke-width="0.4"/>
<circle cx="122.3" cy="248.2" r="1.4" fill="#36983a" stroke="#28722b" stroke-width="0.4"/>
<circle cx="122.3" cy="250.5" r="1.4" fill="#36983a" stroke="#28722b" stroke-width="0.4"/>
<line x1="126.3" y1="209" x2="126.3" y2="222" stroke="#426fa0" stroke-width="0.7"/>
<line x1="124.7" y1="215" x2="127.9" y2="215" stroke="#426fa0" stroke-width="0.7"/>
<circle cx="126.3" cy="206.7" r="1.4" fill="#0d2f5a" stroke="#092343" stroke-width="0.4"/>
<circle cx="126.3" cy="212.6" r="1.4" fill="#0d2f5a" stroke="#092343" stroke-width="0.4"/>
<circle cx="126.3" cy="216.4" r="1.4" fill="#0d2f5a" stroke="#092343" stroke-width="0.4"/>
<circle cx="126.3" cy="218.8" r="1.4" fill="#0d2f5a" stroke="#092343" stroke-width="0.4"/>
<circle cx="126.3" cy="221.1" r="1.4" fill="#0d2f5a" stroke="#092343" stroke-width="0.4"/>
<circle cx="126.3" cy="225" r="1.4" fill="#0d2f5a" stroke="#092343" stroke-width="0.4"/>
<circle cx="130.3" cy="227.3" r="1.3" fill="#d2c4d0" stroke="#9d939c" stroke-width="0.4"/>
<circle cx="137.2" cy="221.9" r="1.4" fill="#b01232" stroke="#840d25" stroke-width="0.4"/>
<circle cx="137.2" cy="233.5" r="1.4" fill="#b01232" stroke="#840d25" stroke-width="0.4"/>
<circle cx="137.2" cy="236.6" r="1.4" fill="#b01232" stroke="#840d25" stroke-width="0.4"/>
<circle cx="137.2" cy="238.9" r="1.4" fill="#b01232" stroke="#840d25" stroke-width="0.4"/>
<circle cx="137.2" cy="242.8" r="1.4" fill="#b01232" stroke="#840d25" stroke-width="0.4"/>
<circle cx="137.2" cy="246.7" r="1.4" fill="#b01232" stroke="#840d25" stroke-width="0.4"/>
<circle cx="141.2" cy="238.1" r="1.4" fill="#36983a" stroke="#28722b" stroke-width="0.4"/>
<circle cx="141.2" cy="240.5" r="1.4" fill="#36983a" stroke="#28722b" stroke-width="0.4"/>
<circle cx="141.2" cy="242.8" r="1.4" fill="#36983a" stroke="#28722b" stroke-width="0.4"/>
<circle cx="141.2" cy="245.1" r="1.4" fill="#36983a" stroke="#28722b" stroke-width="0.4"/>
<circle cx="141.2" cy="247.4" r="1.4" fill="#36983a" stroke="#28722b" stroke-width="0.4"/>
<line x1="145.2" y1="212" x2="145.2" y2="223" stroke="#426fa0" stroke-width="0.7"/>
<line x1="143.6" y1="217" x2="146.8" y2="217" stroke="#426fa0" stroke-width="0.7"/>
<circle cx="145.2" cy="210.2" r="1.4" fill="#0d2f5a" stroke="#092343" stroke-width="0.4"/>
<circle cx="145.2" cy="214.9" r="1.4" fill="#0d2f5a" stroke="#092343" stroke-width="0.4"/>
<circle cx="145.2" cy="220.3" r="1.4" fill="#0d2f5a" stroke="#092343" stroke-width="0.4"/>
<circle cx="145.2" cy="224.2" r="1.4" fill="#0d2f5a" stroke="#092343" stroke-width="0.4"/>
<circle cx="149.2" cy="231.2" r="1.3" fill="#d2c4d0" stroke="#9d939c" stroke-width="0.4"/>
<circle cx="156.1" cy="229.6" r="1.4" fill="#b01232" stroke="#840d25" stroke-width="0.4"/>
<circle cx="156.1" cy="234.3" r="1.4" fill="#b01232" stroke="#840d25" stroke-width="0.4"/>
<circle cx="156.1" cy="237.4" r="1.4" fill="#b01232" stroke="#840d25" stroke-width="0.4"/>
<circle cx="156.1" cy="240.5" r="1.4" fill="#b01232" stroke="#840d25" stroke-width="0.4"/>
<circle cx="156.1" cy="245.1" r="1.4" fill="#b01232" stroke="#840d25" stroke-width="0.4"/>
<circle cx="156.1" cy="248.2" r="1.4" fill="#b01232" stroke="#840d25" stroke-width="0.4"/>
<circle cx="160.1" cy="238.1" r="1.4" fill="#36983a" stroke="#28722b" stroke-width="0.4"/>
<circle cx="160.1" cy="240.5" r="1.4" fill="#36983a" stroke="#28722b" stroke-width="0.4"/>
<circle cx="160.1" cy="242.8" r="1.4" fill="#36983a" stroke="#28722b" stroke-width="0.4"/>
<circle cx="160.1" cy="245.1" r="1.4" fill="#36983a" stroke="#28722b" stroke-width="0.4"/>
<circle cx="160.1" cy="247.4" r="1.4" fill="#36983a" stroke="#28722b" stroke-width="0.4"/>
<line x1="164.1" y1="200" x2="164.1" y2="209" stroke="#426fa0" stroke-width="0.7"/>
<line x1="162.5" y1="204.5" x2="165.7" y2="204.5" stroke="#426fa0" stroke-width="0.7"/>
<circle cx="164.1" cy="198.9" r="1.4" fill="#0d2f5a" stroke="#092343" stroke-width="0.4"/>
<circle cx="164.1" cy="204" r="1.4" fill="#0d2f5a" stroke="#092343" stroke-width="0.4"/>
<circle cx="164.1" cy="208.7" r="1.4" fill="#0d2f5a" stroke="#092343" stroke-width="0.4"/>
<circle cx="164.1" cy="211" r="1.4" fill="#0d2f5a" stroke="#092343" stroke-width="0.4"/>
<circle cx="168.1" cy="232.4" r="1.3" fill="#d2c4d0" stroke="#9d939c" stroke-width="0.4"/>
<line x1="222.5" y1="186" x2="222.5" y2="263.2" stroke="#222" stroke-width="1.1"/>
<line x1="219.9" y1="188.3" x2="222.5" y2="188.3" stroke="#222" stroke-width="0.9"/>
<text x="215.9" y="190.57" font-size="6.3" text-anchor="end" fill="#1e1e1e">1000</text>
<line x1="219.9" y1="207" x2="222.5" y2="207" stroke="#222" stroke-width="0.9"/>
<text x="215.9" y="209.27" font-size="6.3" text-anchor="end" fill="#1e1e1e">100</text>
<line x1="219.9" y1="226.2" x2="222.5" y2="226.2" stroke="#222" stroke-width="0.9"/>
<text x="215.9" y="228.47" font-size="6.3" text-anchor="end" fill="#1e1e1e">10</text>
<line x1="219.9" y1="245.1" x2="222.5" y2="245.1" stroke="#222" stroke-width="0.9"/>
<text x="215.9" y="247.37" font-size="6.3" text-anchor="end" fill="#1e1e1e">1</text>
<line x1="219.9" y1="263.4" x2="222.5" y2="263.4" stroke="#222" stroke-width="0.9"/>
<text x="215.9" y="265.67" font-size="6.3" text-anchor="end" fill="#1e1e1e">0.1</text>
<line x1="222" y1="263.4" x2="297" y2="263.4" stroke="#222" stroke-width="1.1"/>
<line x1="234.6" y1="263.4" x2="234.6" y2="266.6" stroke="#222" stroke-width="0.9"/>
<line x1="251.5" y1="263.4" x2="251.5" y2="266.6" stroke="#222" stroke-width="0.9"/>
<line x1="268.9" y1="263.4" x2="268.9" y2="266.6" stroke="#222" stroke-width="0.9"/>
<line x1="286.5" y1="263.4" x2="286.5" y2="266.6" stroke="#222" stroke-width="0.9"/>
<text x="193.6" y="227.54" font-size="7.6" text-anchor="middle" fill="#1e1e1e" textLength="63.7" lengthAdjust="spacingAndGlyphs" transform="rotate(-90 193.6 224.8)">Peak fold change IL-8</text>
<line x1="235.1" y1="181.9" x2="269.7" y2="181.9" stroke="#222" stroke-width="1"/>
<line x1="235.1" y1="180.5" x2="235.1" y2="183.3" stroke="#222" stroke-width="0.9"/>
<line x1="269.7" y1="180.5" x2="269.7" y2="183.3" stroke="#222" stroke-width="0.9"/>
<text x="252" y="178.57" font-size="6.3" text-anchor="middle" fill="#1e1e1e">0.0021</text>
<line x1="253.4" y1="192.8" x2="269.7" y2="192.8" stroke="#222" stroke-width="1"/>
<line x1="253.4" y1="191.4" x2="253.4" y2="194.2" stroke="#222" stroke-width="0.9"/>
<line x1="269.7" y1="191.4" x2="269.7" y2="194.2" stroke="#222" stroke-width="0.9"/>
<text x="261.5" y="189.77" font-size="6.3" text-anchor="middle" fill="#1e1e1e">0.0015</text>
<circle cx="231.5" cy="222.3" r="1.25" fill="#c0143c"/>
<circle cx="236.6" cy="223.8" r="1.25" fill="#c0143c"/>
<circle cx="229.5" cy="231.5" r="1.25" fill="#c0143c"/>
<circle cx="234.2" cy="230.8" r="1.25" fill="#c0143c"/>
<circle cx="238.8" cy="231.5" r="1.25" fill="#c0143c"/>
<circle cx="229.5" cy="234.6" r="1.25" fill="#c0143c"/>
<circle cx="238.8" cy="235.8" r="1.25" fill="#c0143c"/>
<circle cx="232" cy="237.7" r="1.25" fill="#c0143c"/>
<circle cx="236.6" cy="237.7" r="1.25" fill="#c0143c"/>
<circle cx="232.3" cy="240" r="1.25" fill="#c0143c"/>
<circle cx="236.6" cy="240.5" r="1.25" fill="#c0143c"/>
<circle cx="234.2" cy="242.3" r="1.25" fill="#c0143c"/>
<line x1="228.5" y1="234.3" x2="240.5" y2="234.3" stroke="#c0143c" stroke-width="1"/>
<circle cx="251.5" cy="223.1" r="1.25" fill="#48a848"/>
<circle cx="251.5" cy="228.5" r="1.25" fill="#48a848"/>
<circle cx="247.4" cy="231.8" r="1.25" fill="#48a848"/>
<circle cx="251.5" cy="231.8" r="1.25" fill="#48a848"/>
<circle cx="255.7" cy="233.1" r="1.25" fill="#48a848"/>
<circle cx="247.4" cy="235.4" r="1.25" fill="#48a848"/>
<circle cx="256.2" cy="237.7" r="1.25" fill="#48a848"/>
<circle cx="251.5" cy="240.5" r="1.25" fill="#48a848"/>
<circle cx="249.2" cy="250.3" r="1.25" fill="#48a848"/>
<circle cx="254.2" cy="250.3" r="1.25" fill="#48a848"/>
<line x1="245.4" y1="235.4" x2="257.7" y2="235.4" stroke="#48a848" stroke-width="1"/>
<circle cx="268.9" cy="204.6" r="1.25" fill="#0d2f5a"/>
<circle cx="268.9" cy="211.8" r="1.25" fill="#0d2f5a"/>
<circle cx="268.9" cy="220.8" r="1.25" fill="#0d2f5a"/>
<circle cx="268.9" cy="225.7" r="1.25" fill="#0d2f5a"/>
<line x1="263.1" y1="215.4" x2="274.6" y2="215.4" stroke="#3b6fa8" stroke-width="1"/>
<line x1="281" y1="228.5" x2="292.5" y2="228.5" stroke="#c4c4c4" stroke-width="0.8"/>
<circle cx="286.5" cy="228.5" r="0.9" fill="#c4c4c4"/>
<line x1="342.2" y1="186" x2="342.2" y2="263.2" stroke="#222" stroke-width="1.1"/>
<line x1="339.6" y1="188.6" x2="342.2" y2="188.6" stroke="#222" stroke-width="0.9"/>
<text x="337" y="190.87" font-size="6.3" text-anchor="end" fill="#1e1e1e">10<tspan font-size="3.91" dy="-2.65">5</tspan></text>
<line x1="339.6" y1="213.4" x2="342.2" y2="213.4" stroke="#222" stroke-width="0.9"/>
<text x="337" y="215.67" font-size="6.3" text-anchor="end" fill="#1e1e1e">10<tspan font-size="3.91" dy="-2.65">4</tspan></text>
<line x1="339.6" y1="238.1" x2="342.2" y2="238.1" stroke="#222" stroke-width="0.9"/>
<text x="337" y="240.37" font-size="6.3" text-anchor="end" fill="#1e1e1e">10<tspan font-size="3.91" dy="-2.65">3</tspan></text>
<line x1="339.6" y1="263.1" x2="342.2" y2="263.1" stroke="#222" stroke-width="0.9"/>
<text x="337" y="265.37" font-size="6.3" text-anchor="end" fill="#1e1e1e">10<tspan font-size="3.91" dy="-2.65">2</tspan></text>
<line x1="341.7" y1="263.2" x2="417.3" y2="263.2" stroke="#222" stroke-width="1.1"/>
<line x1="353.8" y1="263.2" x2="353.8" y2="266.4" stroke="#222" stroke-width="0.9"/>
<line x1="371.2" y1="263.2" x2="371.2" y2="266.4" stroke="#222" stroke-width="0.9"/>
<line x1="388.8" y1="263.2" x2="388.8" y2="266.4" stroke="#222" stroke-width="0.9"/>
<line x1="405.7" y1="263.2" x2="405.7" y2="266.4" stroke="#222" stroke-width="0.9"/>
<text x="317.4" y="227.14" font-size="7.6" text-anchor="middle" fill="#1e1e1e" textLength="24.9" lengthAdjust="spacingAndGlyphs" transform="rotate(-90 317.4 224.4)">IL-8 AUC</text>
<line x1="356.2" y1="188.5" x2="388.5" y2="188.5" stroke="#222" stroke-width="1"/>
<line x1="356.2" y1="187.1" x2="356.2" y2="189.9" stroke="#222" stroke-width="0.9"/>
<line x1="388.5" y1="187.1" x2="388.5" y2="189.9" stroke="#222" stroke-width="0.9"/>
<text x="372.3" y="186.97" font-size="6.3" text-anchor="middle" fill="#1e1e1e">0.0004</text>
<line x1="373.2" y1="201.9" x2="388.5" y2="201.9" stroke="#222" stroke-width="1"/>
<line x1="373.2" y1="200.5" x2="373.2" y2="203.3" stroke="#222" stroke-width="0.9"/>
<line x1="388.5" y1="200.5" x2="388.5" y2="203.3" stroke="#222" stroke-width="0.9"/>
<text x="380.7" y="198.17" font-size="6.3" text-anchor="middle" fill="#1e1e1e">0.0004</text>
<line x1="353.8" y1="234.1" x2="353.8" y2="243" stroke="#c0143c" stroke-width="1"/>
<line x1="350.8" y1="234.1" x2="356.8" y2="234.1" stroke="#c0143c" stroke-width="1"/>
<line x1="350.8" y1="243" x2="356.8" y2="243" stroke="#c0143c" stroke-width="1"/>
<line x1="348.8" y1="238.1" x2="358.8" y2="238.1" stroke="#c0143c" stroke-width="1"/>
<circle cx="353.8" cy="238.1" r="1.2" fill="#c0143c"/>
<line x1="371.2" y1="233.5" x2="371.2" y2="245.5" stroke="#48a848" stroke-width="1"/>
<line x1="368.2" y1="233.5" x2="374.2" y2="233.5" stroke="#48a848" stroke-width="1"/>
<line x1="368.2" y1="245.5" x2="374.2" y2="245.5" stroke="#48a848" stroke-width="1"/>
<line x1="366.2" y1="238.3" x2="376.2" y2="238.3" stroke="#48a848" stroke-width="1"/>
<circle cx="371.2" cy="238.3" r="1.2" fill="#48a848"/>
<line x1="388.8" y1="208" x2="388.8" y2="218.2" stroke="#1d4f86" stroke-width="1"/>
<line x1="385.8" y1="208" x2="391.8" y2="208" stroke="#1d4f86" stroke-width="1"/>
<line x1="385.8" y1="218.2" x2="391.8" y2="218.2" stroke="#1d4f86" stroke-width="1"/>
<line x1="383.8" y1="212.3" x2="393.8" y2="212.3" stroke="#1d4f86" stroke-width="1"/>
<circle cx="388.8" cy="212.3" r="1.2" fill="#0d2f5a"/>
<line x1="401.7" y1="226" x2="409.7" y2="226" stroke="#c4c4c4" stroke-width="0.8"/>
<circle cx="405.7" cy="226" r="0.9" fill="#c4c4c4"/>
<circle cx="425.5" cy="189.1" r="1.2" fill="#b01232"/>
<text x="430.2" y="191.44" font-size="6.5" text-anchor="start" fill="#1e1e1e" textLength="55.5" lengthAdjust="spacingAndGlyphs">Cytopenic CAR-19</text>
<circle cx="425.5" cy="199.2" r="1.2" fill="#36983a"/>
<text x="430.2" y="201.54" font-size="6.5" text-anchor="start" fill="#1e1e1e" textLength="66.6" lengthAdjust="spacingAndGlyphs">Non-cytopenic CAR-19</text>
<circle cx="425.5" cy="208.9" r="1.2" fill="#0d2f5a"/>
<text x="430.2" y="211.24" font-size="6.5" text-anchor="start" fill="#1e1e1e" textLength="55.5" lengthAdjust="spacingAndGlyphs">Cytopenic CAR-37</text>
<circle cx="425.5" cy="218.4" r="1.2" fill="#d0d0d0"/>
<text x="430.2" y="220.74" font-size="6.5" text-anchor="start" fill="#1e1e1e" textLength="66.6" lengthAdjust="spacingAndGlyphs">Non-cytopenic CAR-37</text>
<text x="7" y="311.08" font-size="10.5" text-anchor="start" fill="#1e1e1e" font-weight="bold" textLength="7.3" lengthAdjust="spacingAndGlyphs" style="stroke-width:0.7px">C</text>
<text x="115.1" y="314.85" font-size="8.2" text-anchor="middle" fill="#1e1e1e" textLength="17.3" lengthAdjust="spacingAndGlyphs">IFNγ</text>
<line x1="58.4" y1="320.5" x2="58.4" y2="399" stroke="#222" stroke-width="1.1"/>
<line x1="55.8" y1="323" x2="58.4" y2="323" stroke="#222" stroke-width="0.9"/>
<text x="51.8" y="325.27" font-size="6.3" text-anchor="end" fill="#1e1e1e">10000</text>
<line x1="55.8" y1="338.5" x2="58.4" y2="338.5" stroke="#222" stroke-width="0.9"/>
<text x="51.8" y="340.77" font-size="6.3" text-anchor="end" fill="#1e1e1e">1000</text>
<line x1="55.8" y1="353.6" x2="58.4" y2="353.6" stroke="#222" stroke-width="0.9"/>
<text x="51.8" y="355.87" font-size="6.3" text-anchor="end" fill="#1e1e1e">100</text>
<line x1="55.8" y1="368.8" x2="58.4" y2="368.8" stroke="#222" stroke-width="0.9"/>
<text x="51.8" y="371.07" font-size="6.3" text-anchor="end" fill="#1e1e1e">10</text>
<line x1="55.8" y1="383.9" x2="58.4" y2="383.9" stroke="#222" stroke-width="0.9"/>
<text x="51.8" y="386.17" font-size="6.3" text-anchor="end" fill="#1e1e1e">1</text>
<line x1="55.8" y1="398.8" x2="58.4" y2="398.8" stroke="#222" stroke-width="0.9"/>
<text x="51.8" y="401.07" font-size="6.3" text-anchor="end" fill="#1e1e1e">0.1</text>
<line x1="57.9" y1="398.8" x2="170.5" y2="398.8" stroke="#222" stroke-width="1.1"/>
<line x1="67.6" y1="398.8" x2="67.6" y2="402" stroke="#222" stroke-width="0.9"/>
<text x="67.6" y="410.65" font-size="6.8" text-anchor="middle" fill="#1e1e1e">0</text>
<line x1="86.5" y1="398.8" x2="86.5" y2="402" stroke="#222" stroke-width="0.9"/>
<text x="86.5" y="410.65" font-size="6.8" text-anchor="middle" fill="#1e1e1e">3</text>
<line x1="105.4" y1="398.8" x2="105.4" y2="402" stroke="#222" stroke-width="0.9"/>
<text x="105.4" y="410.65" font-size="6.8" text-anchor="middle" fill="#1e1e1e">7</text>
<line x1="124.3" y1="398.8" x2="124.3" y2="402" stroke="#222" stroke-width="0.9"/>
<text x="124.3" y="410.65" font-size="6.8" text-anchor="middle" fill="#1e1e1e">14</text>
<line x1="143.2" y1="398.8" x2="143.2" y2="402" stroke="#222" stroke-width="0.9"/>
<text x="143.2" y="410.65" font-size="6.8" text-anchor="middle" fill="#1e1e1e">21</text>
<line x1="162.1" y1="398.8" x2="162.1" y2="402" stroke="#222" stroke-width="0.9"/>
<text x="162.1" y="410.65" font-size="6.8" text-anchor="middle" fill="#1e1e1e">28</text>
<text x="115" y="422.55" font-size="8.2" text-anchor="middle" fill="#1e1e1e" textLength="53.8" lengthAdjust="spacingAndGlyphs">Days post infusion</text>
<text x="0" y="0" font-size="8" text-anchor="middle" fill="#1e1e1e" transform="translate(29.1 359.5) rotate(-90)" textLength="33.4" lengthAdjust="spacingAndGlyphs">IFNγ pg/ml</text>
<circle cx="61.6" cy="362.5" r="1.4" fill="#b01232" stroke="#840d25" stroke-width="0.4"/>
<circle cx="61.6" cy="363.8" r="1.4" fill="#b01232" stroke="#840d25" stroke-width="0.4"/>
<circle cx="61.6" cy="369.5" r="1.4" fill="#b01232" stroke="#840d25" stroke-width="0.4"/>
<circle cx="61.6" cy="375.8" r="1.4" fill="#b01232" stroke="#840d25" stroke-width="0.4"/>
<circle cx="61.6" cy="377.7" r="1.4" fill="#b01232" stroke="#840d25" stroke-width="0.4"/>
<circle cx="61.6" cy="379.6" r="1.4" fill="#b01232" stroke="#840d25" stroke-width="0.4"/>
<circle cx="61.6" cy="381.5" r="1.4" fill="#b01232" stroke="#840d25" stroke-width="0.4"/>
<circle cx="61.6" cy="386.6" r="1.4" fill="#b01232" stroke="#840d25" stroke-width="0.4"/>
<circle cx="61.6" cy="391" r="1.4" fill="#b01232" stroke="#840d25" stroke-width="0.4"/>
<circle cx="65.6" cy="367.6" r="1.4" fill="#36983a" stroke="#28722b" stroke-width="0.4"/>
<circle cx="65.6" cy="374.6" r="1.4" fill="#36983a" stroke="#28722b" stroke-width="0.4"/>
<circle cx="65.6" cy="377.1" r="1.4" fill="#36983a" stroke="#28722b" stroke-width="0.4"/>
<circle cx="65.6" cy="382.2" r="1.4" fill="#36983a" stroke="#28722b" stroke-width="0.4"/>
<circle cx="65.6" cy="384.1" r="1.4" fill="#36983a" stroke="#28722b" stroke-width="0.4"/>
<circle cx="65.6" cy="386" r="1.4" fill="#36983a" stroke="#28722b" stroke-width="0.4"/>
<circle cx="65.6" cy="387.9" r="1.4" fill="#36983a" stroke="#28722b" stroke-width="0.4"/>
<circle cx="65.6" cy="389.8" r="1.4" fill="#36983a" stroke="#28722b" stroke-width="0.4"/>
<circle cx="65.6" cy="391" r="1.4" fill="#36983a" stroke="#28722b" stroke-width="0.4"/>
<line x1="69.6" y1="378.5" x2="69.6" y2="381.5" stroke="#426fa0" stroke-width="0.7"/>
<line x1="68" y1="380" x2="71.2" y2="380" stroke="#426fa0" stroke-width="0.7"/>
<circle cx="69.6" cy="379" r="1.4" fill="#0d2f5a" stroke="#092343" stroke-width="0.4"/>
<circle cx="69.6" cy="380.3" r="1.4" fill="#0d2f5a" stroke="#092343" stroke-width="0.4"/>
<circle cx="69.6" cy="380.9" r="1.4" fill="#0d2f5a" stroke="#092343" stroke-width="0.4"/>
<circle cx="73.6" cy="370.8" r="1.3" fill="#d2c4d0" stroke="#9d939c" stroke-width="0.4"/>
<circle cx="80.5" cy="352.4" r="1.4" fill="#b01232" stroke="#840d25" stroke-width="0.4"/>
<circle cx="80.5" cy="357.5" r="1.4" fill="#b01232" stroke="#840d25" stroke-width="0.4"/>
<circle cx="80.5" cy="359.4" r="1.4" fill="#b01232" stroke="#840d25" stroke-width="0.4"/>
<circle cx="80.5" cy="361.9" r="1.4" fill="#b01232" stroke="#840d25" stroke-width="0.4"/>
<circle cx="80.5" cy="363.2" r="1.4" fill="#b01232" stroke="#840d25" stroke-width="0.4"/>
<circle cx="80.5" cy="365.1" r="1.4" fill="#b01232" stroke="#840d25" stroke-width="0.4"/>
<circle cx="80.5" cy="366.3" r="1.4" fill="#b01232" stroke="#840d25" stroke-width="0.4"/>
<circle cx="80.5" cy="382.2" r="1.4" fill="#b01232" stroke="#840d25" stroke-width="0.4"/>
<circle cx="80.5" cy="384.7" r="1.4" fill="#b01232" stroke="#840d25" stroke-width="0.4"/>
<circle cx="84.5" cy="357.5" r="1.4" fill="#36983a" stroke="#28722b" stroke-width="0.4"/>
<circle cx="84.5" cy="362.5" r="1.4" fill="#36983a" stroke="#28722b" stroke-width="0.4"/>
<circle cx="84.5" cy="364.4" r="1.4" fill="#36983a" stroke="#28722b" stroke-width="0.4"/>
<circle cx="84.5" cy="367" r="1.4" fill="#36983a" stroke="#28722b" stroke-width="0.4"/>
<circle cx="84.5" cy="368.9" r="1.4" fill="#36983a" stroke="#28722b" stroke-width="0.4"/>
<circle cx="84.5" cy="373.3" r="1.4" fill="#36983a" stroke="#28722b" stroke-width="0.4"/>
<circle cx="84.5" cy="377.1" r="1.4" fill="#36983a" stroke="#28722b" stroke-width="0.4"/>
<circle cx="84.5" cy="379.6" r="1.4" fill="#36983a" stroke="#28722b" stroke-width="0.4"/>
<circle cx="84.5" cy="381.5" r="1.4" fill="#36983a" stroke="#28722b" stroke-width="0.4"/>
<line x1="88.5" y1="339.1" x2="88.5" y2="366.3" stroke="#426fa0" stroke-width="0.7"/>
<line x1="86.9" y1="343.5" x2="90.1" y2="343.5" stroke="#426fa0" stroke-width="0.7"/>
<circle cx="88.5" cy="334.6" r="1.4" fill="#0d2f5a" stroke="#092343" stroke-width="0.4"/>
<circle cx="88.5" cy="366.3" r="1.4" fill="#0d2f5a" stroke="#092343" stroke-width="0.4"/>
<circle cx="88.5" cy="370.8" r="1.4" fill="#0d2f5a" stroke="#092343" stroke-width="0.4"/>
<circle cx="88.5" cy="377.1" r="1.4" fill="#0d2f5a" stroke="#092343" stroke-width="0.4"/>
<circle cx="92.5" cy="365.4" r="1.3" fill="#d2c4d0" stroke="#9d939c" stroke-width="0.4"/>
<circle cx="99.4" cy="348.2" r="1.4" fill="#b01232" stroke="#840d25" stroke-width="0.4"/>
<circle cx="99.4" cy="354.3" r="1.4" fill="#b01232" stroke="#840d25" stroke-width="0.4"/>
<circle cx="99.4" cy="360.6" r="1.4" fill="#b01232" stroke="#840d25" stroke-width="0.4"/>
<circle cx="99.4" cy="365.1" r="1.4" fill="#b01232" stroke="#840d25" stroke-width="0.4"/>
<circle cx="99.4" cy="376.5" r="1.4" fill="#b01232" stroke="#840d25" stroke-width="0.4"/>
<circle cx="99.4" cy="378.4" r="1.4" fill="#b01232" stroke="#840d25" stroke-width="0.4"/>
<circle cx="99.4" cy="382.8" r="1.4" fill="#b01232" stroke="#840d25" stroke-width="0.4"/>
<circle cx="99.4" cy="390.8" r="1.4" fill="#b01232" stroke="#840d25" stroke-width="0.4"/>
<circle cx="103.4" cy="353" r="1.4" fill="#36983a" stroke="#28722b" stroke-width="0.4"/>
<circle cx="103.4" cy="355.6" r="1.4" fill="#36983a" stroke="#28722b" stroke-width="0.4"/>
<circle cx="103.4" cy="358.1" r="1.4" fill="#36983a" stroke="#28722b" stroke-width="0.4"/>
<circle cx="103.4" cy="361.9" r="1.4" fill="#36983a" stroke="#28722b" stroke-width="0.4"/>
<circle cx="103.4" cy="365.7" r="1.4" fill="#36983a" stroke="#28722b" stroke-width="0.4"/>
<circle cx="103.4" cy="370.8" r="1.4" fill="#36983a" stroke="#28722b" stroke-width="0.4"/>
<circle cx="103.4" cy="375.8" r="1.4" fill="#36983a" stroke="#28722b" stroke-width="0.4"/>
<circle cx="103.4" cy="378.4" r="1.4" fill="#36983a" stroke="#28722b" stroke-width="0.4"/>
<circle cx="103.4" cy="380.9" r="1.4" fill="#36983a" stroke="#28722b" stroke-width="0.4"/>
<circle cx="103.4" cy="384.7" r="1.4" fill="#36983a" stroke="#28722b" stroke-width="0.4"/>
<circle cx="103.4" cy="388.3" r="1.4" fill="#36983a" stroke="#28722b" stroke-width="0.4"/>
<line x1="107.4" y1="337.8" x2="107.4" y2="364.4" stroke="#426fa0" stroke-width="0.7"/>
<line x1="105.8" y1="346" x2="109" y2="346" stroke="#426fa0" stroke-width="0.7"/>
<circle cx="107.4" cy="337.8" r="1.4" fill="#0d2f5a" stroke="#092343" stroke-width="0.4"/>
<circle cx="107.4" cy="356.8" r="1.4" fill="#0d2f5a" stroke="#092343" stroke-width="0.4"/>
<circle cx="107.4" cy="364.4" r="1.4" fill="#0d2f5a" stroke="#092343" stroke-width="0.4"/>
<circle cx="107.4" cy="377.1" r="1.4" fill="#0d2f5a" stroke="#092343" stroke-width="0.4"/>
<circle cx="111.4" cy="365.4" r="1.3" fill="#d2c4d0" stroke="#9d939c" stroke-width="0.4"/>
<circle cx="118.3" cy="361.5" r="1.4" fill="#b01232" stroke="#840d25" stroke-width="0.4"/>
<circle cx="118.3" cy="363.8" r="1.4" fill="#b01232" stroke="#840d25" stroke-width="0.4"/>
<circle cx="118.3" cy="365.4" r="1.4" fill="#b01232" stroke="#840d25" stroke-width="0.4"/>
<circle cx="118.3" cy="371.6" r="1.4" fill="#b01232" stroke="#840d25" stroke-width="0.4"/>
<circle cx="118.3" cy="373.1" r="1.4" fill="#b01232" stroke="#840d25" stroke-width="0.4"/>
<circle cx="118.3" cy="375.5" r="1.4" fill="#b01232" stroke="#840d25" stroke-width="0.4"/>
<circle cx="118.3" cy="377" r="1.4" fill="#b01232" stroke="#840d25" stroke-width="0.4"/>
<circle cx="118.3" cy="380.1" r="1.4" fill="#b01232" stroke="#840d25" stroke-width="0.4"/>
<circle cx="118.3" cy="390.2" r="1.4" fill="#b01232" stroke="#840d25" stroke-width="0.4"/>
<circle cx="118.3" cy="391.3" r="1.4" fill="#b01232" stroke="#840d25" stroke-width="0.4"/>
<circle cx="122.3" cy="361.5" r="1.4" fill="#36983a" stroke="#28722b" stroke-width="0.4"/>
<circle cx="122.3" cy="368.5" r="1.4" fill="#36983a" stroke="#28722b" stroke-width="0.4"/>
<circle cx="122.3" cy="373.9" r="1.4" fill="#36983a" stroke="#28722b" stroke-width="0.4"/>
<circle cx="122.3" cy="376.2" r="1.4" fill="#36983a" stroke="#28722b" stroke-width="0.4"/>
<circle cx="122.3" cy="378.6" r="1.4" fill="#36983a" stroke="#28722b" stroke-width="0.4"/>
<circle cx="122.3" cy="380.9" r="1.4" fill="#36983a" stroke="#28722b" stroke-width="0.4"/>
<circle cx="122.3" cy="383.2" r="1.4" fill="#36983a" stroke="#28722b" stroke-width="0.4"/>
<circle cx="122.3" cy="390.2" r="1.4" fill="#36983a" stroke="#28722b" stroke-width="0.4"/>
<circle cx="122.3" cy="391.3" r="1.4" fill="#36983a" stroke="#28722b" stroke-width="0.4"/>
<line x1="126.3" y1="345.2" x2="126.3" y2="357" stroke="#426fa0" stroke-width="0.7"/>
<line x1="124.7" y1="349" x2="127.9" y2="349" stroke="#426fa0" stroke-width="0.7"/>
<circle cx="126.3" cy="345.2" r="1.4" fill="#0d2f5a" stroke="#092343" stroke-width="0.4"/>
<circle cx="126.3" cy="346.8" r="1.4" fill="#0d2f5a" stroke="#092343" stroke-width="0.4"/>
<circle cx="126.3" cy="354.5" r="1.4" fill="#0d2f5a" stroke="#092343" stroke-width="0.4"/>
<circle cx="126.3" cy="360.7" r="1.4" fill="#0d2f5a" stroke="#092343" stroke-width="0.4"/>
<circle cx="130.3" cy="363.8" r="1.3" fill="#d2c4d0" stroke="#9d939c" stroke-width="0.4"/>
<circle cx="137.2" cy="361.5" r="1.4" fill="#b01232" stroke="#840d25" stroke-width="0.4"/>
<circle cx="137.2" cy="363.1" r="1.4" fill="#b01232" stroke="#840d25" stroke-width="0.4"/>
<circle cx="137.2" cy="365.4" r="1.4" fill="#b01232" stroke="#840d25" stroke-width="0.4"/>
<circle cx="137.2" cy="368.5" r="1.4" fill="#b01232" stroke="#840d25" stroke-width="0.4"/>
<circle cx="137.2" cy="378.6" r="1.4" fill="#b01232" stroke="#840d25" stroke-width="0.4"/>
<circle cx="137.2" cy="389.4" r="1.4" fill="#b01232" stroke="#840d25" stroke-width="0.4"/>
<circle cx="137.2" cy="391" r="1.4" fill="#b01232" stroke="#840d25" stroke-width="0.4"/>
<circle cx="141.2" cy="362.3" r="1.4" fill="#36983a" stroke="#28722b" stroke-width="0.4"/>
<circle cx="141.2" cy="365.4" r="1.4" fill="#36983a" stroke="#28722b" stroke-width="0.4"/>
<circle cx="141.2" cy="368.5" r="1.4" fill="#36983a" stroke="#28722b" stroke-width="0.4"/>
<circle cx="141.2" cy="371.6" r="1.4" fill="#36983a" stroke="#28722b" stroke-width="0.4"/>
<circle cx="141.2" cy="374.7" r="1.4" fill="#36983a" stroke="#28722b" stroke-width="0.4"/>
<circle cx="141.2" cy="383.2" r="1.4" fill="#36983a" stroke="#28722b" stroke-width="0.4"/>
<circle cx="141.2" cy="385.5" r="1.4" fill="#36983a" stroke="#28722b" stroke-width="0.4"/>
<circle cx="141.2" cy="387.9" r="1.4" fill="#36983a" stroke="#28722b" stroke-width="0.4"/>
<line x1="145.2" y1="339.8" x2="145.2" y2="366.9" stroke="#426fa0" stroke-width="0.7"/>
<line x1="143.6" y1="344.5" x2="146.8" y2="344.5" stroke="#426fa0" stroke-width="0.7"/>
<circle cx="145.2" cy="335.9" r="1.4" fill="#0d2f5a" stroke="#092343" stroke-width="0.4"/>
<circle cx="145.2" cy="366.9" r="1.4" fill="#0d2f5a" stroke="#092343" stroke-width="0.4"/>
<circle cx="145.2" cy="373.1" r="1.4" fill="#0d2f5a" stroke="#092343" stroke-width="0.4"/>
<circle cx="149.2" cy="366.2" r="1.3" fill="#d2c4d0" stroke="#9d939c" stroke-width="0.4"/>
<circle cx="156.1" cy="364.6" r="1.4" fill="#b01232" stroke="#840d25" stroke-width="0.4"/>
<circle cx="156.1" cy="369.3" r="1.4" fill="#b01232" stroke="#840d25" stroke-width="0.4"/>
<circle cx="156.1" cy="370.8" r="1.4" fill="#b01232" stroke="#840d25" stroke-width="0.4"/>
<circle cx="156.1" cy="373.1" r="1.4" fill="#b01232" stroke="#840d25" stroke-width="0.4"/>
<circle cx="156.1" cy="375.5" r="1.4" fill="#b01232" stroke="#840d25" stroke-width="0.4"/>
<circle cx="156.1" cy="377.8" r="1.4" fill="#b01232" stroke="#840d25" stroke-width="0.4"/>
<circle cx="156.1" cy="378.9" r="1.4" fill="#b01232" stroke="#840d25" stroke-width="0.4"/>
<circle cx="160.1" cy="363.1" r="1.4" fill="#36983a" stroke="#28722b" stroke-width="0.4"/>
<circle cx="160.1" cy="373.1" r="1.4" fill="#36983a" stroke="#28722b" stroke-width="0.4"/>
<circle cx="160.1" cy="374.7" r="1.4" fill="#36983a" stroke="#28722b" stroke-width="0.4"/>
<circle cx="160.1" cy="377" r="1.4" fill="#36983a" stroke="#28722b" stroke-width="0.4"/>
<circle cx="160.1" cy="382.4" r="1.4" fill="#36983a" stroke="#28722b" stroke-width="0.4"/>
<circle cx="160.1" cy="384.8" r="1.4" fill="#36983a" stroke="#28722b" stroke-width="0.4"/>
<circle cx="160.1" cy="387.1" r="1.4" fill="#36983a" stroke="#28722b" stroke-width="0.4"/>
<circle cx="160.1" cy="391" r="1.4" fill="#36983a" stroke="#28722b" stroke-width="0.4"/>
<line x1="164.1" y1="330.2" x2="164.1" y2="350.7" stroke="#426fa0" stroke-width="0.7"/>
<line x1="162.5" y1="337.5" x2="165.7" y2="337.5" stroke="#426fa0" stroke-width="0.7"/>
<circle cx="164.1" cy="330.2" r="1.4" fill="#0d2f5a" stroke="#092343" stroke-width="0.4"/>
<circle cx="164.1" cy="345.2" r="1.4" fill="#0d2f5a" stroke="#092343" stroke-width="0.4"/>
<circle cx="164.1" cy="373.6" r="1.4" fill="#0d2f5a" stroke="#092343" stroke-width="0.4"/>
<circle cx="168.1" cy="362.3" r="1.3" fill="#d2c4d0" stroke="#9d939c" stroke-width="0.4"/>
<line x1="222.5" y1="320.5" x2="222.5" y2="399" stroke="#222" stroke-width="1.1"/>
<line x1="219.9" y1="322.8" x2="222.5" y2="322.8" stroke="#222" stroke-width="0.9"/>
<text x="215.9" y="325.07" font-size="6.3" text-anchor="end" fill="#1e1e1e">10000</text>
<line x1="219.9" y1="338.6" x2="222.5" y2="338.6" stroke="#222" stroke-width="0.9"/>
<text x="215.9" y="340.87" font-size="6.3" text-anchor="end" fill="#1e1e1e">1000</text>
<line x1="219.9" y1="353.6" x2="222.5" y2="353.6" stroke="#222" stroke-width="0.9"/>
<text x="215.9" y="355.87" font-size="6.3" text-anchor="end" fill="#1e1e1e">100</text>
<line x1="219.9" y1="369" x2="222.5" y2="369" stroke="#222" stroke-width="0.9"/>
<text x="215.9" y="371.27" font-size="6.3" text-anchor="end" fill="#1e1e1e">10</text>
<line x1="219.9" y1="384" x2="222.5" y2="384" stroke="#222" stroke-width="0.9"/>
<text x="215.9" y="386.27" font-size="6.3" text-anchor="end" fill="#1e1e1e">1</text>
<line x1="219.9" y1="399" x2="222.5" y2="399" stroke="#222" stroke-width="0.9"/>
<text x="215.9" y="401.27" font-size="6.3" text-anchor="end" fill="#1e1e1e">0.1</text>
<line x1="222" y1="399" x2="297" y2="399" stroke="#222" stroke-width="1.1"/>
<line x1="234.6" y1="399" x2="234.6" y2="402.2" stroke="#222" stroke-width="0.9"/>
<line x1="251.5" y1="399" x2="251.5" y2="402.2" stroke="#222" stroke-width="0.9"/>
<line x1="268.9" y1="399" x2="268.9" y2="402.2" stroke="#222" stroke-width="0.9"/>
<line x1="286.5" y1="399" x2="286.5" y2="402.2" stroke="#222" stroke-width="0.9"/>
<text x="0" y="0" font-size="7.6" text-anchor="middle" fill="#1e1e1e" transform="translate(194.2 359.8) rotate(-90)" textLength="66.5" lengthAdjust="spacingAndGlyphs">Peak fold change IFNγ</text>
<line x1="235.1" y1="310.7" x2="269.4" y2="310.7" stroke="#222" stroke-width="1"/>
<line x1="235.1" y1="309.3" x2="235.1" y2="312.1" stroke="#222" stroke-width="0.9"/>
<line x1="269.4" y1="309.3" x2="269.4" y2="312.1" stroke="#222" stroke-width="0.9"/>
<text x="252" y="307.17" font-size="6.3" text-anchor="middle" fill="#1e1e1e">0.0021</text>
<line x1="254.6" y1="321.5" x2="269.4" y2="321.5" stroke="#222" stroke-width="1"/>
<line x1="254.6" y1="320.1" x2="254.6" y2="322.9" stroke="#222" stroke-width="0.9"/>
<line x1="269.4" y1="320.1" x2="269.4" y2="322.9" stroke="#222" stroke-width="0.9"/>
<text x="262" y="318.47" font-size="6.3" text-anchor="middle" fill="#1e1e1e">0.0014</text>
<circle cx="234.3" cy="345.3" r="1.25" fill="#c0143c"/>
<circle cx="231.6" cy="356.1" r="1.25" fill="#c0143c"/>
<circle cx="236.7" cy="355.1" r="1.25" fill="#c0143c"/>
<circle cx="229.6" cy="367" r="1.25" fill="#c0143c"/>
<circle cx="234.3" cy="365" r="1.25" fill="#c0143c"/>
<circle cx="232.1" cy="368.5" r="1.25" fill="#c0143c"/>
<circle cx="234.3" cy="370.6" r="1.25" fill="#c0143c"/>
<circle cx="229.6" cy="383.6" r="1.25" fill="#c0143c"/>
<circle cx="234.3" cy="381.7" r="1.25" fill="#c0143c"/>
<circle cx="238.9" cy="379.9" r="1.25" fill="#c0143c"/>
<circle cx="238.9" cy="383" r="1.25" fill="#c0143c"/>
<line x1="228.5" y1="368.5" x2="240.2" y2="368.5" stroke="#c0143c" stroke-width="1"/>
<circle cx="249.5" cy="356.9" r="1.25" fill="#48a848"/>
<circle cx="253.8" cy="355.4" r="1.25" fill="#48a848"/>
<circle cx="247.1" cy="362.3" r="1.25" fill="#48a848"/>
<circle cx="251.8" cy="361.3" r="1.25" fill="#48a848"/>
<circle cx="256" cy="360" r="1.25" fill="#48a848"/>
<circle cx="247.1" cy="367.8" r="1.25" fill="#48a848"/>
<circle cx="251.8" cy="368.5" r="1.25" fill="#48a848"/>
<circle cx="256" cy="366.2" r="1.25" fill="#48a848"/>
<circle cx="249.5" cy="372.7" r="1.25" fill="#48a848"/>
<circle cx="253.8" cy="372.7" r="1.25" fill="#48a848"/>
<circle cx="251.8" cy="395.7" r="1.25" fill="#48a848"/>
<line x1="245.6" y1="365" x2="258" y2="365" stroke="#48a848" stroke-width="1"/>
<circle cx="269.3" cy="333.3" r="1.25" fill="#0d2f5a"/>
<circle cx="269.3" cy="339.1" r="1.25" fill="#0d2f5a"/>
<circle cx="271.2" cy="348.9" r="1.25" fill="#0d2f5a"/>
<circle cx="266.8" cy="351" r="1.25" fill="#0d2f5a"/>
<line x1="263.4" y1="342.2" x2="275" y2="342.2" stroke="#3b6fa8" stroke-width="1"/>
<line x1="280.8" y1="375.5" x2="292.1" y2="375.5" stroke="#c4c4c4" stroke-width="0.8"/>
<line x1="342.2" y1="320.5" x2="342.2" y2="399" stroke="#222" stroke-width="1.1"/>
<line x1="339.6" y1="322.9" x2="342.2" y2="322.9" stroke="#222" stroke-width="0.9"/>
<text x="337" y="325.17" font-size="6.3" text-anchor="end" fill="#1e1e1e">10<tspan font-size="3.91" dy="-2.65">5</tspan></text>
<line x1="339.6" y1="348.5" x2="342.2" y2="348.5" stroke="#222" stroke-width="0.9"/>
<text x="337" y="350.77" font-size="6.3" text-anchor="end" fill="#1e1e1e">10<tspan font-size="3.91" dy="-2.65">4</tspan></text>
<line x1="339.6" y1="373.7" x2="342.2" y2="373.7" stroke="#222" stroke-width="0.9"/>
<text x="337" y="375.97" font-size="6.3" text-anchor="end" fill="#1e1e1e">10<tspan font-size="3.91" dy="-2.65">3</tspan></text>
<line x1="339.6" y1="399" x2="342.2" y2="399" stroke="#222" stroke-width="0.9"/>
<text x="337" y="401.27" font-size="6.3" text-anchor="end" fill="#1e1e1e">10<tspan font-size="3.91" dy="-2.65">2</tspan></text>
<line x1="341.7" y1="399" x2="417.3" y2="399" stroke="#222" stroke-width="1.1"/>
<line x1="353.8" y1="399" x2="353.8" y2="402.2" stroke="#222" stroke-width="0.9"/>
<line x1="371.2" y1="399" x2="371.2" y2="402.2" stroke="#222" stroke-width="0.9"/>
<line x1="388.8" y1="399" x2="388.8" y2="402.2" stroke="#222" stroke-width="0.9"/>
<line x1="405.7" y1="399" x2="405.7" y2="402.2" stroke="#222" stroke-width="0.9"/>
<text x="0" y="0" font-size="7.6" text-anchor="middle" fill="#1e1e1e" transform="translate(320.3 359.4) rotate(-90)" textLength="26.6" lengthAdjust="spacingAndGlyphs">IFNγ AUC</text>
<line x1="356.1" y1="320.9" x2="387.9" y2="320.9" stroke="#222" stroke-width="1"/>
<line x1="356.1" y1="319.5" x2="356.1" y2="322.3" stroke="#222" stroke-width="0.9"/>
<line x1="387.9" y1="319.5" x2="387.9" y2="322.3" stroke="#222" stroke-width="0.9"/>
<text x="372.8" y="318.37" font-size="6.3" text-anchor="middle" fill="#1e1e1e">0.0128</text>
<line x1="371.2" y1="334.1" x2="387.9" y2="334.1" stroke="#222" stroke-width="1"/>
<line x1="371.2" y1="332.7" x2="371.2" y2="335.5" stroke="#222" stroke-width="0.9"/>
<line x1="387.9" y1="332.7" x2="387.9" y2="335.5" stroke="#222" stroke-width="0.9"/>
<text x="379.4" y="331.07" font-size="6.3" text-anchor="middle" fill="#1e1e1e">0.0108</text>
<line x1="353.8" y1="375.4" x2="353.8" y2="389.6" stroke="#c0143c" stroke-width="1"/>
<line x1="350.8" y1="375.4" x2="356.8" y2="375.4" stroke="#c0143c" stroke-width="1"/>
<line x1="350.8" y1="389.6" x2="356.8" y2="389.6" stroke="#c0143c" stroke-width="1"/>
<line x1="348.8" y1="380.7" x2="358.8" y2="380.7" stroke="#c0143c" stroke-width="1"/>
<circle cx="353.8" cy="380.7" r="1.2" fill="#c0143c"/>
<line x1="371.2" y1="382.4" x2="371.2" y2="396.5" stroke="#48a848" stroke-width="1"/>
<line x1="370" y1="382.4" x2="372.4" y2="382.4" stroke="#48a848" stroke-width="1"/>
<line x1="370" y1="396.5" x2="372.4" y2="396.5" stroke="#48a848" stroke-width="1"/>
<line x1="370" y1="387.4" x2="372.4" y2="387.4" stroke="#48a848" stroke-width="1"/>
<circle cx="371.2" cy="387.4" r="1.2" fill="#48a848"/>
<line x1="388.8" y1="340.5" x2="388.8" y2="360.2" stroke="#1d4f86" stroke-width="1"/>
<line x1="387.6" y1="340.5" x2="390" y2="340.5" stroke="#1d4f86" stroke-width="1"/>
<line x1="387.6" y1="360.2" x2="390" y2="360.2" stroke="#1d4f86" stroke-width="1"/>
<line x1="387.6" y1="346.4" x2="390" y2="346.4" stroke="#1d4f86" stroke-width="1"/>
<circle cx="388.8" cy="346.4" r="1.2" fill="#0d2f5a"/>
<circle cx="405.7" cy="381.7" r="1.3" fill="#c4c4c4"/>
<text x="7.8" y="446.28" font-size="10.5" text-anchor="start" fill="#1e1e1e" font-weight="bold" textLength="7.3" lengthAdjust="spacingAndGlyphs" style="stroke-width:0.7px">D</text>
<text x="115" y="443.95" font-size="8.2" text-anchor="middle" fill="#1e1e1e" textLength="18.4" lengthAdjust="spacingAndGlyphs">IL-18</text>
<line x1="58.9" y1="449.5" x2="58.9" y2="527.5" stroke="#222" stroke-width="1.1"/>
<line x1="56.3" y1="452.6" x2="58.9" y2="452.6" stroke="#222" stroke-width="0.9"/>
<text x="52.3" y="454.87" font-size="6.3" text-anchor="end" fill="#1e1e1e">100000</text>
<line x1="56.3" y1="477.4" x2="58.9" y2="477.4" stroke="#222" stroke-width="0.9"/>
<text x="52.3" y="479.67" font-size="6.3" text-anchor="end" fill="#1e1e1e">10000</text>
<line x1="56.3" y1="502.2" x2="58.9" y2="502.2" stroke="#222" stroke-width="0.9"/>
<text x="52.3" y="504.47" font-size="6.3" text-anchor="end" fill="#1e1e1e">1000</text>
<line x1="56.3" y1="527.3" x2="58.9" y2="527.3" stroke="#222" stroke-width="0.9"/>
<text x="52.3" y="529.57" font-size="6.3" text-anchor="end" fill="#1e1e1e">100</text>
<line x1="58.4" y1="527.3" x2="170.6" y2="527.3" stroke="#222" stroke-width="1.1"/>
<line x1="67.6" y1="527.3" x2="67.6" y2="530.5" stroke="#222" stroke-width="0.9"/>
<text x="67.6" y="539.35" font-size="6.8" text-anchor="middle" fill="#1e1e1e">0</text>
<line x1="86.5" y1="527.3" x2="86.5" y2="530.5" stroke="#222" stroke-width="0.9"/>
<text x="86.5" y="539.35" font-size="6.8" text-anchor="middle" fill="#1e1e1e">3</text>
<line x1="105.4" y1="527.3" x2="105.4" y2="530.5" stroke="#222" stroke-width="0.9"/>
<text x="105.4" y="539.35" font-size="6.8" text-anchor="middle" fill="#1e1e1e">7</text>
<line x1="124.3" y1="527.3" x2="124.3" y2="530.5" stroke="#222" stroke-width="0.9"/>
<text x="124.3" y="539.35" font-size="6.8" text-anchor="middle" fill="#1e1e1e">14</text>
<line x1="143.2" y1="527.3" x2="143.2" y2="530.5" stroke="#222" stroke-width="0.9"/>
<text x="143.2" y="539.35" font-size="6.8" text-anchor="middle" fill="#1e1e1e">21</text>
<line x1="162.1" y1="527.3" x2="162.1" y2="530.5" stroke="#222" stroke-width="0.9"/>
<text x="162.1" y="539.35" font-size="6.8" text-anchor="middle" fill="#1e1e1e">28</text>
<text x="115" y="551.25" font-size="8.2" text-anchor="middle" fill="#1e1e1e" textLength="53.8" lengthAdjust="spacingAndGlyphs">Days post infusion</text>
<text x="22.8" y="490.78" font-size="8" text-anchor="middle" fill="#1e1e1e" textLength="33.8" lengthAdjust="spacingAndGlyphs" transform="rotate(-90 22.8 487.9)">IL-18 pg/ml</text>
<circle cx="61.6" cy="503.3" r="1.4" fill="#b01232" stroke="#840d25" stroke-width="0.4"/>
<circle cx="61.6" cy="504.6" r="1.4" fill="#b01232" stroke="#840d25" stroke-width="0.4"/>
<circle cx="61.6" cy="505.8" r="1.4" fill="#b01232" stroke="#840d25" stroke-width="0.4"/>
<circle cx="61.6" cy="507.1" r="1.4" fill="#b01232" stroke="#840d25" stroke-width="0.4"/>
<circle cx="61.6" cy="508.4" r="1.4" fill="#b01232" stroke="#840d25" stroke-width="0.4"/>
<circle cx="61.6" cy="509.6" r="1.4" fill="#b01232" stroke="#840d25" stroke-width="0.4"/>
<circle cx="61.6" cy="510.9" r="1.4" fill="#b01232" stroke="#840d25" stroke-width="0.4"/>
<circle cx="61.6" cy="512.2" r="1.4" fill="#b01232" stroke="#840d25" stroke-width="0.4"/>
<circle cx="61.6" cy="514.1" r="1.4" fill="#b01232" stroke="#840d25" stroke-width="0.4"/>
<circle cx="65.6" cy="505.8" r="1.4" fill="#36983a" stroke="#28722b" stroke-width="0.4"/>
<circle cx="65.6" cy="509.6" r="1.4" fill="#36983a" stroke="#28722b" stroke-width="0.4"/>
<circle cx="65.6" cy="510.9" r="1.4" fill="#36983a" stroke="#28722b" stroke-width="0.4"/>
<circle cx="65.6" cy="513.4" r="1.4" fill="#36983a" stroke="#28722b" stroke-width="0.4"/>
<circle cx="65.6" cy="516" r="1.4" fill="#36983a" stroke="#28722b" stroke-width="0.4"/>
<circle cx="65.6" cy="517.2" r="1.4" fill="#36983a" stroke="#28722b" stroke-width="0.4"/>
<circle cx="65.6" cy="519.1" r="1.4" fill="#36983a" stroke="#28722b" stroke-width="0.4"/>
<circle cx="65.6" cy="521" r="1.4" fill="#36983a" stroke="#28722b" stroke-width="0.4"/>
<line x1="69.6" y1="491.9" x2="69.6" y2="502" stroke="#426fa0" stroke-width="0.7"/>
<line x1="68" y1="496.3" x2="71.2" y2="496.3" stroke="#426fa0" stroke-width="0.7"/>
<circle cx="69.6" cy="486.2" r="1.4" fill="#0d2f5a" stroke="#092343" stroke-width="0.4"/>
<circle cx="69.6" cy="497" r="1.4" fill="#0d2f5a" stroke="#092343" stroke-width="0.4"/>
<circle cx="69.6" cy="500.1" r="1.4" fill="#0d2f5a" stroke="#092343" stroke-width="0.4"/>
<circle cx="69.6" cy="501.4" r="1.4" fill="#0d2f5a" stroke="#092343" stroke-width="0.4"/>
<circle cx="69.6" cy="502.7" r="1.4" fill="#0d2f5a" stroke="#092343" stroke-width="0.4"/>
<circle cx="69.6" cy="521" r="1.4" fill="#0d2f5a" stroke="#092343" stroke-width="0.4"/>
<circle cx="73.6" cy="506.7" r="1.3" fill="#d2c4d0" stroke="#9d939c" stroke-width="0.4"/>
<circle cx="80.5" cy="500.1" r="1.4" fill="#b01232" stroke="#840d25" stroke-width="0.4"/>
<circle cx="80.5" cy="501.4" r="1.4" fill="#b01232" stroke="#840d25" stroke-width="0.4"/>
<circle cx="80.5" cy="503.3" r="1.4" fill="#b01232" stroke="#840d25" stroke-width="0.4"/>
<circle cx="80.5" cy="505.8" r="1.4" fill="#b01232" stroke="#840d25" stroke-width="0.4"/>
<circle cx="80.5" cy="507.7" r="1.4" fill="#b01232" stroke="#840d25" stroke-width="0.4"/>
<circle cx="80.5" cy="509.6" r="1.4" fill="#b01232" stroke="#840d25" stroke-width="0.4"/>
<circle cx="80.5" cy="510.9" r="1.4" fill="#b01232" stroke="#840d25" stroke-width="0.4"/>
<circle cx="80.5" cy="515.3" r="1.4" fill="#b01232" stroke="#840d25" stroke-width="0.4"/>
<circle cx="84.5" cy="507.1" r="1.4" fill="#36983a" stroke="#28722b" stroke-width="0.4"/>
<circle cx="84.5" cy="509.6" r="1.4" fill="#36983a" stroke="#28722b" stroke-width="0.4"/>
<circle cx="84.5" cy="511.5" r="1.4" fill="#36983a" stroke="#28722b" stroke-width="0.4"/>
<circle cx="84.5" cy="513.4" r="1.4" fill="#36983a" stroke="#28722b" stroke-width="0.4"/>
<circle cx="84.5" cy="515.3" r="1.4" fill="#36983a" stroke="#28722b" stroke-width="0.4"/>
<circle cx="84.5" cy="520.4" r="1.4" fill="#36983a" stroke="#28722b" stroke-width="0.4"/>
<line x1="88.5" y1="493" x2="88.5" y2="503" stroke="#426fa0" stroke-width="0.7"/>
<line x1="86.9" y1="497" x2="90.1" y2="497" stroke="#426fa0" stroke-width="0.7"/>
<circle cx="88.5" cy="491.6" r="1.4" fill="#0d2f5a" stroke="#092343" stroke-width="0.4"/>
<circle cx="88.5" cy="498.9" r="1.4" fill="#0d2f5a" stroke="#092343" stroke-width="0.4"/>
<circle cx="88.5" cy="500.1" r="1.4" fill="#0d2f5a" stroke="#092343" stroke-width="0.4"/>
<circle cx="88.5" cy="507.1" r="1.4" fill="#0d2f5a" stroke="#092343" stroke-width="0.4"/>
<circle cx="92.5" cy="503.3" r="1.3" fill="#d2c4d0" stroke="#9d939c" stroke-width="0.4"/>
<circle cx="99.4" cy="487.1" r="1.4" fill="#b01232" stroke="#840d25" stroke-width="0.4"/>
<circle cx="99.4" cy="493.8" r="1.4" fill="#b01232" stroke="#840d25" stroke-width="0.4"/>
<circle cx="99.4" cy="498.2" r="1.4" fill="#b01232" stroke="#840d25" stroke-width="0.4"/>
<circle cx="99.4" cy="499.5" r="1.4" fill="#b01232" stroke="#840d25" stroke-width="0.4"/>
<circle cx="99.4" cy="501.4" r="1.4" fill="#b01232" stroke="#840d25" stroke-width="0.4"/>
<circle cx="99.4" cy="503.3" r="1.4" fill="#b01232" stroke="#840d25" stroke-width="0.4"/>
<circle cx="99.4" cy="505.8" r="1.4" fill="#b01232" stroke="#840d25" stroke-width="0.4"/>
<circle cx="99.4" cy="508.4" r="1.4" fill="#b01232" stroke="#840d25" stroke-width="0.4"/>
<circle cx="99.4" cy="510.9" r="1.4" fill="#b01232" stroke="#840d25" stroke-width="0.4"/>
<circle cx="99.4" cy="513.4" r="1.4" fill="#b01232" stroke="#840d25" stroke-width="0.4"/>
<circle cx="103.4" cy="505.2" r="1.4" fill="#36983a" stroke="#28722b" stroke-width="0.4"/>
<circle cx="103.4" cy="507.1" r="1.4" fill="#36983a" stroke="#28722b" stroke-width="0.4"/>
<circle cx="103.4" cy="509" r="1.4" fill="#36983a" stroke="#28722b" stroke-width="0.4"/>
<circle cx="103.4" cy="510.9" r="1.4" fill="#36983a" stroke="#28722b" stroke-width="0.4"/>
<circle cx="103.4" cy="512.8" r="1.4" fill="#36983a" stroke="#28722b" stroke-width="0.4"/>
<circle cx="103.4" cy="514.7" r="1.4" fill="#36983a" stroke="#28722b" stroke-width="0.4"/>
<circle cx="107.4" cy="494.4" r="1.4" fill="#0d2f5a" stroke="#092343" stroke-width="0.4"/>
<circle cx="107.4" cy="496.3" r="1.4" fill="#0d2f5a" stroke="#092343" stroke-width="0.4"/>
<circle cx="107.4" cy="498.2" r="1.4" fill="#0d2f5a" stroke="#092343" stroke-width="0.4"/>
<circle cx="107.4" cy="500.1" r="1.4" fill="#0d2f5a" stroke="#092343" stroke-width="0.4"/>
<circle cx="111.4" cy="500.8" r="1.3" fill="#d2c4d0" stroke="#9d939c" stroke-width="0.4"/>
<circle cx="118.3" cy="493.2" r="1.4" fill="#b01232" stroke="#840d25" stroke-width="0.4"/>
<circle cx="118.3" cy="502" r="1.4" fill="#b01232" stroke="#840d25" stroke-width="0.4"/>
<circle cx="118.3" cy="503.9" r="1.4" fill="#b01232" stroke="#840d25" stroke-width="0.4"/>
<circle cx="118.3" cy="505.8" r="1.4" fill="#b01232" stroke="#840d25" stroke-width="0.4"/>
<circle cx="118.3" cy="507.7" r="1.4" fill="#b01232" stroke="#840d25" stroke-width="0.4"/>
<circle cx="118.3" cy="509.6" r="1.4" fill="#b01232" stroke="#840d25" stroke-width="0.4"/>
<circle cx="118.3" cy="511.5" r="1.4" fill="#b01232" stroke="#840d25" stroke-width="0.4"/>
<circle cx="122.3" cy="505.2" r="1.4" fill="#36983a" stroke="#28722b" stroke-width="0.4"/>
<circle cx="122.3" cy="507.1" r="1.4" fill="#36983a" stroke="#28722b" stroke-width="0.4"/>
<circle cx="122.3" cy="509.6" r="1.4" fill="#36983a" stroke="#28722b" stroke-width="0.4"/>
<circle cx="122.3" cy="512.2" r="1.4" fill="#36983a" stroke="#28722b" stroke-width="0.4"/>
<circle cx="122.3" cy="514.7" r="1.4" fill="#36983a" stroke="#28722b" stroke-width="0.4"/>
<circle cx="122.3" cy="522.3" r="1.4" fill="#36983a" stroke="#28722b" stroke-width="0.4"/>
<circle cx="122.3" cy="524.8" r="1.4" fill="#36983a" stroke="#28722b" stroke-width="0.4"/>
<line x1="126.3" y1="479" x2="126.3" y2="488" stroke="#426fa0" stroke-width="0.7"/>
<line x1="124.7" y1="484" x2="127.9" y2="484" stroke="#426fa0" stroke-width="0.7"/>
<circle cx="126.3" cy="478" r="1.4" fill="#0d2f5a" stroke="#092343" stroke-width="0.4"/>
<circle cx="126.3" cy="483" r="1.4" fill="#0d2f5a" stroke="#092343" stroke-width="0.4"/>
<circle cx="126.3" cy="485.6" r="1.4" fill="#0d2f5a" stroke="#092343" stroke-width="0.4"/>
<circle cx="126.3" cy="489.4" r="1.4" fill="#0d2f5a" stroke="#092343" stroke-width="0.4"/>
<circle cx="130.3" cy="498.9" r="1.3" fill="#d2c4d0" stroke="#9d939c" stroke-width="0.4"/>
<circle cx="137.2" cy="497" r="1.4" fill="#b01232" stroke="#840d25" stroke-width="0.4"/>
<circle cx="137.2" cy="503.3" r="1.4" fill="#b01232" stroke="#840d25" stroke-width="0.4"/>
<circle cx="137.2" cy="505.2" r="1.4" fill="#b01232" stroke="#840d25" stroke-width="0.4"/>
<circle cx="137.2" cy="507.1" r="1.4" fill="#b01232" stroke="#840d25" stroke-width="0.4"/>
<circle cx="137.2" cy="509" r="1.4" fill="#b01232" stroke="#840d25" stroke-width="0.4"/>
<circle cx="137.2" cy="510.9" r="1.4" fill="#b01232" stroke="#840d25" stroke-width="0.4"/>
<circle cx="137.2" cy="512.8" r="1.4" fill="#b01232" stroke="#840d25" stroke-width="0.4"/>
<circle cx="141.2" cy="509.6" r="1.4" fill="#36983a" stroke="#28722b" stroke-width="0.4"/>
<circle cx="141.2" cy="511.5" r="1.4" fill="#36983a" stroke="#28722b" stroke-width="0.4"/>
<circle cx="141.2" cy="513.4" r="1.4" fill="#36983a" stroke="#28722b" stroke-width="0.4"/>
<circle cx="141.2" cy="515.3" r="1.4" fill="#36983a" stroke="#28722b" stroke-width="0.4"/>
<circle cx="141.2" cy="517.2" r="1.4" fill="#36983a" stroke="#28722b" stroke-width="0.4"/>
<circle cx="141.2" cy="519.1" r="1.4" fill="#36983a" stroke="#28722b" stroke-width="0.4"/>
<line x1="145.2" y1="475" x2="145.2" y2="487" stroke="#426fa0" stroke-width="0.7"/>
<line x1="143.6" y1="479" x2="146.8" y2="479" stroke="#426fa0" stroke-width="0.7"/>
<circle cx="145.2" cy="473.9" r="1.4" fill="#0d2f5a" stroke="#092343" stroke-width="0.4"/>
<circle cx="145.2" cy="476.1" r="1.4" fill="#0d2f5a" stroke="#092343" stroke-width="0.4"/>
<circle cx="145.2" cy="478.6" r="1.4" fill="#0d2f5a" stroke="#092343" stroke-width="0.4"/>
<circle cx="145.2" cy="482.4" r="1.4" fill="#0d2f5a" stroke="#092343" stroke-width="0.4"/>
<circle cx="145.2" cy="495.1" r="1.4" fill="#0d2f5a" stroke="#092343" stroke-width="0.4"/>
<circle cx="149.2" cy="499.8" r="1.3" fill="#d2c4d0" stroke="#9d939c" stroke-width="0.4"/>
<circle cx="156.1" cy="495.1" r="1.4" fill="#b01232" stroke="#840d25" stroke-width="0.4"/>
<circle cx="156.1" cy="502.7" r="1.4" fill="#b01232" stroke="#840d25" stroke-width="0.4"/>
<circle cx="156.1" cy="504.6" r="1.4" fill="#b01232" stroke="#840d25" stroke-width="0.4"/>
<circle cx="156.1" cy="506.5" r="1.4" fill="#b01232" stroke="#840d25" stroke-width="0.4"/>
<circle cx="156.1" cy="508.4" r="1.4" fill="#b01232" stroke="#840d25" stroke-width="0.4"/>
<circle cx="156.1" cy="513.4" r="1.4" fill="#b01232" stroke="#840d25" stroke-width="0.4"/>
<circle cx="160.1" cy="505.8" r="1.4" fill="#36983a" stroke="#28722b" stroke-width="0.4"/>
<circle cx="160.1" cy="508.4" r="1.4" fill="#36983a" stroke="#28722b" stroke-width="0.4"/>
<circle cx="160.1" cy="510.9" r="1.4" fill="#36983a" stroke="#28722b" stroke-width="0.4"/>
<circle cx="160.1" cy="513.4" r="1.4" fill="#36983a" stroke="#28722b" stroke-width="0.4"/>
<circle cx="160.1" cy="516" r="1.4" fill="#36983a" stroke="#28722b" stroke-width="0.4"/>
<circle cx="160.1" cy="518.5" r="1.4" fill="#36983a" stroke="#28722b" stroke-width="0.4"/>
<circle cx="160.1" cy="521" r="1.4" fill="#36983a" stroke="#28722b" stroke-width="0.4"/>
<line x1="164.1" y1="469.1" x2="164.1" y2="486.8" stroke="#426fa0" stroke-width="0.7"/>
<line x1="162.5" y1="478" x2="165.7" y2="478" stroke="#426fa0" stroke-width="0.7"/>
<circle cx="164.1" cy="469.1" r="1.4" fill="#0d2f5a" stroke="#092343" stroke-width="0.4"/>
<circle cx="164.1" cy="478.2" r="1.4" fill="#0d2f5a" stroke="#092343" stroke-width="0.4"/>
<circle cx="164.1" cy="505.6" r="1.4" fill="#0d2f5a" stroke="#092343" stroke-width="0.4"/>
<circle cx="168.1" cy="502.7" r="1.3" fill="#d2c4d0" stroke="#9d939c" stroke-width="0.4"/>
<line x1="222.5" y1="449" x2="222.5" y2="527.5" stroke="#222" stroke-width="1.1"/>
<line x1="219.9" y1="451.6" x2="222.5" y2="451.6" stroke="#222" stroke-width="0.9"/>
<text x="215.9" y="453.87" font-size="6.3" text-anchor="end" fill="#1e1e1e">1000</text>
<line x1="219.9" y1="470.6" x2="222.5" y2="470.6" stroke="#222" stroke-width="0.9"/>
<text x="215.9" y="472.87" font-size="6.3" text-anchor="end" fill="#1e1e1e">100</text>
<line x1="219.9" y1="489.6" x2="222.5" y2="489.6" stroke="#222" stroke-width="0.9"/>
<text x="215.9" y="491.87" font-size="6.3" text-anchor="end" fill="#1e1e1e">10</text>
<line x1="219.9" y1="508.5" x2="222.5" y2="508.5" stroke="#222" stroke-width="0.9"/>
<text x="215.9" y="510.77" font-size="6.3" text-anchor="end" fill="#1e1e1e">1</text>
<line x1="219.9" y1="527.4" x2="222.5" y2="527.4" stroke="#222" stroke-width="0.9"/>
<text x="215.9" y="529.67" font-size="6.3" text-anchor="end" fill="#1e1e1e">0.1</text>
<line x1="222" y1="527.4" x2="297" y2="527.4" stroke="#222" stroke-width="1.1"/>
<line x1="234.6" y1="527.4" x2="234.6" y2="530.6" stroke="#222" stroke-width="0.9"/>
<line x1="251.5" y1="527.4" x2="251.5" y2="530.6" stroke="#222" stroke-width="0.9"/>
<line x1="268.9" y1="527.4" x2="268.9" y2="530.6" stroke="#222" stroke-width="0.9"/>
<line x1="286.5" y1="527.4" x2="286.5" y2="530.6" stroke="#222" stroke-width="0.9"/>
<text x="194" y="490.84" font-size="7.6" text-anchor="middle" fill="#1e1e1e" textLength="68.2" lengthAdjust="spacingAndGlyphs" transform="rotate(-90 194 488.1)">Peak fold change  IL-18</text>
<circle cx="234.2" cy="458.2" r="1.25" fill="#c0143c"/>
<circle cx="236.6" cy="494.2" r="1.25" fill="#c0143c"/>
<circle cx="234.2" cy="496.6" r="1.25" fill="#c0143c"/>
<circle cx="229.5" cy="504.3" r="1.25" fill="#c0143c"/>
<circle cx="232" cy="502.3" r="1.25" fill="#c0143c"/>
<circle cx="234.2" cy="503.4" r="1.25" fill="#c0143c"/>
<circle cx="236.6" cy="503.1" r="1.25" fill="#c0143c"/>
<circle cx="238.8" cy="504.3" r="1.25" fill="#c0143c"/>
<circle cx="234.2" cy="506.5" r="1.25" fill="#c0143c"/>
<circle cx="236.6" cy="505.8" r="1.25" fill="#c0143c"/>
<circle cx="234.2" cy="511.5" r="1.25" fill="#c0143c"/>
<line x1="228.5" y1="504.3" x2="240.2" y2="504.3" stroke="#c0143c" stroke-width="1"/>
<circle cx="250.8" cy="500.8" r="1.25" fill="#48a848"/>
<circle cx="247.7" cy="503.1" r="1.25" fill="#48a848"/>
<circle cx="251.5" cy="503.1" r="1.25" fill="#48a848"/>
<circle cx="249.2" cy="504.6" r="1.25" fill="#48a848"/>
<circle cx="253.1" cy="505.4" r="1.25" fill="#48a848"/>
<circle cx="256.2" cy="505.8" r="1.25" fill="#48a848"/>
<circle cx="250.8" cy="506.9" r="1.25" fill="#48a848"/>
<circle cx="252.3" cy="508" r="1.25" fill="#48a848"/>
<circle cx="251.5" cy="512" r="1.25" fill="#48a848"/>
<line x1="245.4" y1="505.4" x2="257.7" y2="505.4" stroke="#48a848" stroke-width="1"/>
<circle cx="268.9" cy="481.5" r="1.25" fill="#0d2f5a"/>
<circle cx="268.9" cy="488.9" r="1.25" fill="#0d2f5a"/>
<circle cx="268.9" cy="493.1" r="1.25" fill="#0d2f5a"/>
<circle cx="268.9" cy="496.2" r="1.25" fill="#0d2f5a"/>
<line x1="263.1" y1="490.8" x2="274.6" y2="490.8" stroke="#3b6fa8" stroke-width="1"/>
<line x1="280.3" y1="502.8" x2="295.1" y2="502.8" stroke="#c4c4c4" stroke-width="0.8"/>
<line x1="342.2" y1="449.5" x2="342.2" y2="527.3" stroke="#222" stroke-width="1.1"/>
<line x1="339.6" y1="452.1" x2="342.2" y2="452.1" stroke="#222" stroke-width="0.9"/>
<text x="337" y="454.37" font-size="6.3" text-anchor="end" fill="#1e1e1e">10<tspan font-size="3.91" dy="-2.65">6</tspan></text>
<line x1="339.6" y1="477.3" x2="342.2" y2="477.3" stroke="#222" stroke-width="0.9"/>
<text x="337" y="479.57" font-size="6.3" text-anchor="end" fill="#1e1e1e">10<tspan font-size="3.91" dy="-2.65">5</tspan></text>
<line x1="339.6" y1="502.2" x2="342.2" y2="502.2" stroke="#222" stroke-width="0.9"/>
<text x="337" y="504.47" font-size="6.3" text-anchor="end" fill="#1e1e1e">10<tspan font-size="3.91" dy="-2.65">4</tspan></text>
<line x1="339.6" y1="527.2" x2="342.2" y2="527.2" stroke="#222" stroke-width="0.9"/>
<text x="337" y="529.47" font-size="6.3" text-anchor="end" fill="#1e1e1e">10<tspan font-size="3.91" dy="-2.65">3</tspan></text>
<line x1="341.7" y1="527.2" x2="417.3" y2="527.2" stroke="#222" stroke-width="1.1"/>
<line x1="353.8" y1="527.2" x2="353.8" y2="530.4" stroke="#222" stroke-width="0.9"/>
<line x1="371.2" y1="527.2" x2="371.2" y2="530.4" stroke="#222" stroke-width="0.9"/>
<line x1="388.8" y1="527.2" x2="388.8" y2="530.4" stroke="#222" stroke-width="0.9"/>
<line x1="405.7" y1="527.2" x2="405.7" y2="530.4" stroke="#222" stroke-width="0.9"/>
<text x="317.6" y="491.14" font-size="7.6" text-anchor="middle" fill="#1e1e1e" textLength="28.7" lengthAdjust="spacingAndGlyphs" transform="rotate(-90 317.6 488.4)">IL-18 AUC</text>
<line x1="354" y1="448.8" x2="388.6" y2="448.8" stroke="#222" stroke-width="1"/>
<line x1="354" y1="447.4" x2="354" y2="450.2" stroke="#222" stroke-width="0.9"/>
<line x1="388.6" y1="447.4" x2="388.6" y2="450.2" stroke="#222" stroke-width="0.9"/>
<text x="371.5" y="445.97" font-size="6.3" text-anchor="middle" fill="#1e1e1e">&lt;0.0001</text>
<line x1="371.2" y1="461.7" x2="388.6" y2="461.7" stroke="#222" stroke-width="1"/>
<line x1="371.2" y1="460.3" x2="371.2" y2="463.1" stroke="#222" stroke-width="0.9"/>
<line x1="388.6" y1="460.3" x2="388.6" y2="463.1" stroke="#222" stroke-width="0.9"/>
<text x="379.9" y="458.27" font-size="6.3" text-anchor="middle" fill="#1e1e1e">&lt;0.0001</text>
<line x1="353.8" y1="488.5" x2="353.8" y2="493.1" stroke="#c0143c" stroke-width="1"/>
<line x1="350.8" y1="488.5" x2="356.8" y2="488.5" stroke="#c0143c" stroke-width="1"/>
<line x1="350.8" y1="493.1" x2="356.8" y2="493.1" stroke="#c0143c" stroke-width="1"/>
<line x1="348.8" y1="490.6" x2="358.8" y2="490.6" stroke="#c0143c" stroke-width="1"/>
<circle cx="353.8" cy="490.6" r="1.2" fill="#c0143c"/>
<line x1="371.2" y1="500.6" x2="371.2" y2="502.6" stroke="#48a848" stroke-width="1"/>
<line x1="368.2" y1="500.6" x2="374.2" y2="500.6" stroke="#48a848" stroke-width="1"/>
<line x1="368.2" y1="502.6" x2="374.2" y2="502.6" stroke="#48a848" stroke-width="1"/>
<line x1="366.2" y1="501.6" x2="376.2" y2="501.6" stroke="#48a848" stroke-width="1"/>
<circle cx="371.2" cy="501.6" r="1.2" fill="#48a848"/>
<line x1="388.8" y1="470" x2="388.8" y2="476.4" stroke="#1d4f86" stroke-width="1"/>
<line x1="385.8" y1="470" x2="391.8" y2="470" stroke="#1d4f86" stroke-width="1"/>
<line x1="385.8" y1="476.4" x2="391.8" y2="476.4" stroke="#1d4f86" stroke-width="1"/>
<line x1="383.8" y1="472.8" x2="393.8" y2="472.8" stroke="#1d4f86" stroke-width="1"/>
<circle cx="388.8" cy="472.8" r="1.2" fill="#0d2f5a"/>
<line x1="401.7" y1="489.1" x2="409.7" y2="489.1" stroke="#c4c4c4" stroke-width="0.8"/>
<circle cx="405.7" cy="489.1" r="0.9" fill="#c4c4c4"/>
<text x="8" y="575.98" font-size="10.5" text-anchor="start" fill="#1e1e1e" font-weight="bold" textLength="6" lengthAdjust="spacingAndGlyphs" style="stroke-width:0.7px">E</text>
<text x="97.3" y="582.05" font-size="8.2" text-anchor="middle" fill="#1e1e1e" textLength="31.6" lengthAdjust="spacingAndGlyphs">IL-18 BP</text>
<line x1="46.7" y1="587.8" x2="46.7" y2="656" stroke="#222" stroke-width="1.1"/>
<line x1="44.1" y1="590.6" x2="46.7" y2="590.6" stroke="#222" stroke-width="0.9"/>
<text x="40.1" y="592.87" font-size="6.3" text-anchor="end" fill="#1e1e1e">100000</text>
<line x1="44.1" y1="623.3" x2="46.7" y2="623.3" stroke="#222" stroke-width="0.9"/>
<text x="40.1" y="625.57" font-size="6.3" text-anchor="end" fill="#1e1e1e">10000</text>
<line x1="44.1" y1="655.9" x2="46.7" y2="655.9" stroke="#222" stroke-width="0.9"/>
<text x="40.1" y="658.17" font-size="6.3" text-anchor="end" fill="#1e1e1e">1000</text>
<line x1="46.2" y1="655.9" x2="144.3" y2="655.9" stroke="#222" stroke-width="1.1"/>
<line x1="54" y1="655.9" x2="54" y2="659.1" stroke="#222" stroke-width="0.9"/>
<text x="54" y="667.95" font-size="6.8" text-anchor="middle" fill="#1e1e1e">0</text>
<line x1="70.6" y1="655.9" x2="70.6" y2="659.1" stroke="#222" stroke-width="0.9"/>
<text x="70.6" y="667.95" font-size="6.8" text-anchor="middle" fill="#1e1e1e">3</text>
<line x1="87" y1="655.9" x2="87" y2="659.1" stroke="#222" stroke-width="0.9"/>
<text x="87" y="667.95" font-size="6.8" text-anchor="middle" fill="#1e1e1e">7</text>
<line x1="103.6" y1="655.9" x2="103.6" y2="659.1" stroke="#222" stroke-width="0.9"/>
<text x="103.6" y="667.95" font-size="6.8" text-anchor="middle" fill="#1e1e1e">14</text>
<line x1="120.5" y1="655.9" x2="120.5" y2="659.1" stroke="#222" stroke-width="0.9"/>
<text x="120.5" y="667.95" font-size="6.8" text-anchor="middle" fill="#1e1e1e">21</text>
<line x1="137.4" y1="655.9" x2="137.4" y2="659.1" stroke="#222" stroke-width="0.9"/>
<text x="137.4" y="667.95" font-size="6.8" text-anchor="middle" fill="#1e1e1e">28</text>
<text x="96" y="679.45" font-size="8.2" text-anchor="middle" fill="#1e1e1e" textLength="54" lengthAdjust="spacingAndGlyphs">Days post infusion</text>
<text x="10.9" y="624.71" font-size="7.8" text-anchor="middle" fill="#1e1e1e" textLength="44.4" lengthAdjust="spacingAndGlyphs" transform="rotate(-90 10.9 621.9)">IL-18 BP pg/ml</text>
<line x1="51.2" y1="614" x2="51.2" y2="622.5" stroke="#3b6fa8" stroke-width="0.6"/>
<line x1="49.4" y1="618.1" x2="53" y2="618.1" stroke="#3b6fa8" stroke-width="0.6"/>
<circle cx="51.2" cy="612.9" r="1.35" fill="#0d2f5a" stroke="#0a2548" stroke-width="0.4"/>
<circle cx="51.2" cy="613.8" r="1.35" fill="#0d2f5a" stroke="#0a2548" stroke-width="0.4"/>
<circle cx="51.2" cy="620.6" r="1.35" fill="#0d2f5a" stroke="#0a2548" stroke-width="0.4"/>
<circle cx="51.2" cy="623.8" r="1.35" fill="#0d2f5a" stroke="#0a2548" stroke-width="0.4"/>
<circle cx="51.2" cy="630.2" r="1.35" fill="#0d2f5a" stroke="#0a2548" stroke-width="0.4"/>
<circle cx="57.6" cy="617.3" r="1.3" fill="#d6ccc6"/>
<line x1="67.8" y1="609" x2="67.8" y2="617" stroke="#3b6fa8" stroke-width="0.6"/>
<line x1="66" y1="613" x2="69.6" y2="613" stroke="#3b6fa8" stroke-width="0.6"/>
<circle cx="67.8" cy="607.1" r="1.35" fill="#0d2f5a" stroke="#0a2548" stroke-width="0.4"/>
<circle cx="67.8" cy="611" r="1.35" fill="#0d2f5a" stroke="#0a2548" stroke-width="0.4"/>
<circle cx="67.8" cy="613.8" r="1.35" fill="#0d2f5a" stroke="#0a2548" stroke-width="0.4"/>
<circle cx="67.8" cy="615.4" r="1.35" fill="#0d2f5a" stroke="#0a2548" stroke-width="0.4"/>
<circle cx="67.8" cy="619.6" r="1.35" fill="#0d2f5a" stroke="#0a2548" stroke-width="0.4"/>
<circle cx="74.2" cy="612.5" r="1.3" fill="#d6ccc6"/>
<line x1="84.2" y1="611" x2="84.2" y2="619" stroke="#3b6fa8" stroke-width="0.6"/>
<line x1="82.4" y1="615.5" x2="86" y2="615.5" stroke="#3b6fa8" stroke-width="0.6"/>
<circle cx="84.2" cy="608.5" r="1.35" fill="#0d2f5a" stroke="#0a2548" stroke-width="0.4"/>
<circle cx="84.2" cy="615.8" r="1.35" fill="#0d2f5a" stroke="#0a2548" stroke-width="0.4"/>
<circle cx="83.3" cy="620.2" r="1.35" fill="#0d2f5a" stroke="#0a2548" stroke-width="0.4"/>
<circle cx="85.1" cy="620.2" r="1.35" fill="#0d2f5a" stroke="#0a2548" stroke-width="0.4"/>
<circle cx="90.6" cy="613.5" r="1.3" fill="#d6ccc6"/>
<line x1="100.8" y1="609.5" x2="100.8" y2="612.5" stroke="#3b6fa8" stroke-width="0.6"/>
<line x1="99" y1="611" x2="102.6" y2="611" stroke="#3b6fa8" stroke-width="0.6"/>
<circle cx="100" cy="609.6" r="1.35" fill="#0d2f5a" stroke="#0a2548" stroke-width="0.4"/>
<circle cx="101.6" cy="610" r="1.35" fill="#0d2f5a" stroke="#0a2548" stroke-width="0.4"/>
<circle cx="100.8" cy="611.9" r="1.35" fill="#0d2f5a" stroke="#0a2548" stroke-width="0.4"/>
<circle cx="100.3" cy="612.5" r="1.35" fill="#0d2f5a" stroke="#0a2548" stroke-width="0.4"/>
<circle cx="107.2" cy="614.8" r="1.3" fill="#d6ccc6"/>
<line x1="117.7" y1="612.5" x2="117.7" y2="616.5" stroke="#3b6fa8" stroke-width="0.6"/>
<line x1="115.9" y1="614.5" x2="119.5" y2="614.5" stroke="#3b6fa8" stroke-width="0.6"/>
<circle cx="116.9" cy="612.9" r="1.35" fill="#0d2f5a" stroke="#0a2548" stroke-width="0.4"/>
<circle cx="118.5" cy="612.9" r="1.35" fill="#0d2f5a" stroke="#0a2548" stroke-width="0.4"/>
<circle cx="117.7" cy="614.8" r="1.35" fill="#0d2f5a" stroke="#0a2548" stroke-width="0.4"/>
<circle cx="117.7" cy="619.2" r="1.35" fill="#0d2f5a" stroke="#0a2548" stroke-width="0.4"/>
<circle cx="124.1" cy="614.4" r="1.3" fill="#d6ccc6"/>
<line x1="134.6" y1="610.5" x2="134.6" y2="616.5" stroke="#3b6fa8" stroke-width="0.6"/>
<line x1="132.8" y1="613.5" x2="136.4" y2="613.5" stroke="#3b6fa8" stroke-width="0.6"/>
<circle cx="133.8" cy="610" r="1.35" fill="#0d2f5a" stroke="#0a2548" stroke-width="0.4"/>
<circle cx="135.4" cy="610" r="1.35" fill="#0d2f5a" stroke="#0a2548" stroke-width="0.4"/>
<circle cx="134.6" cy="613.8" r="1.35" fill="#0d2f5a" stroke="#0a2548" stroke-width="0.4"/>
<circle cx="134.6" cy="620" r="1.35" fill="#0d2f5a" stroke="#0a2548" stroke-width="0.4"/>
<circle cx="141" cy="614.8" r="1.3" fill="#d6ccc6"/>
<line x1="197.6" y1="588" x2="197.6" y2="656" stroke="#222" stroke-width="1.1"/>
<line x1="195" y1="590.3" x2="197.6" y2="590.3" stroke="#222" stroke-width="0.9"/>
<text x="191" y="592.57" font-size="6.3" text-anchor="end" fill="#1e1e1e">1000</text>
<line x1="195" y1="606.9" x2="197.6" y2="606.9" stroke="#222" stroke-width="0.9"/>
<text x="191" y="609.17" font-size="6.3" text-anchor="end" fill="#1e1e1e">100</text>
<line x1="195" y1="623.3" x2="197.6" y2="623.3" stroke="#222" stroke-width="0.9"/>
<text x="191" y="625.57" font-size="6.3" text-anchor="end" fill="#1e1e1e">10</text>
<line x1="195" y1="639.5" x2="197.6" y2="639.5" stroke="#222" stroke-width="0.9"/>
<text x="191" y="641.77" font-size="6.3" text-anchor="end" fill="#1e1e1e">1</text>
<line x1="195" y1="655.8" x2="197.6" y2="655.8" stroke="#222" stroke-width="0.9"/>
<text x="191" y="658.07" font-size="6.3" text-anchor="end" fill="#1e1e1e">0.1</text>
<line x1="197.1" y1="655.8" x2="262.5" y2="655.8" stroke="#222" stroke-width="1.1"/>
<line x1="215.9" y1="655.8" x2="215.9" y2="659" stroke="#222" stroke-width="0.9"/>
<line x1="244.1" y1="655.8" x2="244.1" y2="659" stroke="#222" stroke-width="0.9"/>
<text x="158.3" y="624.54" font-size="7.6" text-anchor="middle" fill="#1e1e1e" textLength="51" lengthAdjust="spacingAndGlyphs" transform="rotate(-90 158.3 621.8)">Peak fold change</text>
<text x="168.9" y="624.61" font-size="7.8" text-anchor="middle" fill="#1e1e1e" textLength="24.2" lengthAdjust="spacingAndGlyphs" transform="rotate(-90 168.9 621.8)">IL-18 BP</text>
<line x1="207.1" y1="635.6" x2="225.7" y2="635.6" stroke="#3b6fa8" stroke-width="1.2"/>
<circle cx="215.9" cy="628.2" r="1.1" fill="#0d2f5a"/>
<circle cx="215.9" cy="633.8" r="1.1" fill="#0d2f5a"/>
<circle cx="214.1" cy="638.1" r="1.1" fill="#0d2f5a"/>
<circle cx="218.1" cy="638.1" r="1.1" fill="#0d2f5a"/>
<line x1="234" y1="636.9" x2="254" y2="636.9" stroke="#c4c4c4" stroke-width="0.8"/>
<line x1="301.3" y1="588" x2="301.3" y2="656.2" stroke="#222" stroke-width="1.1"/>
<line x1="298.7" y1="590.1" x2="301.3" y2="590.1" stroke="#222" stroke-width="0.9"/>
<text x="296.1" y="592.37" font-size="6.3" text-anchor="end" fill="#1e1e1e">10<tspan font-size="3.91" dy="-2.65">6</tspan></text>
<line x1="298.7" y1="612.3" x2="301.3" y2="612.3" stroke="#222" stroke-width="0.9"/>
<text x="296.1" y="614.57" font-size="6.3" text-anchor="end" fill="#1e1e1e">10<tspan font-size="3.91" dy="-2.65">5</tspan></text>
<line x1="298.7" y1="633.9" x2="301.3" y2="633.9" stroke="#222" stroke-width="0.9"/>
<text x="296.1" y="636.17" font-size="6.3" text-anchor="end" fill="#1e1e1e">10<tspan font-size="3.91" dy="-2.65">4</tspan></text>
<line x1="298.7" y1="656.1" x2="301.3" y2="656.1" stroke="#222" stroke-width="0.9"/>
<text x="296.1" y="658.37" font-size="6.3" text-anchor="end" fill="#1e1e1e">10<tspan font-size="3.91" dy="-2.65">3</tspan></text>
<line x1="300.8" y1="656.1" x2="372.6" y2="656.1" stroke="#222" stroke-width="1.1"/>
<line x1="321.4" y1="656.1" x2="321.4" y2="659.3" stroke="#222" stroke-width="0.9"/>
<line x1="352.1" y1="656.1" x2="352.1" y2="659.3" stroke="#222" stroke-width="0.9"/>
<text x="276.4" y="624.71" font-size="7.8" text-anchor="middle" fill="#1e1e1e" textLength="38.4" lengthAdjust="spacingAndGlyphs" transform="rotate(-90 276.4 621.9)">IL-18 BP AUC</text>
<line x1="311.9" y1="596.2" x2="331.3" y2="596.2" stroke="#1d4f86" stroke-width="1"/>
<rect x="317" y="594.9" width="10" height="2.6" fill="#1d4f86"/>
<line x1="341.9" y1="596.6" x2="362.4" y2="596.6" stroke="#c4c4c4" stroke-width="0.8"/>
<circle cx="352.1" cy="596.6" r="0.9" fill="#c4c4c4"/>
<text x="388.1" y="575.98" font-size="10.5" text-anchor="start" fill="#1e1e1e" font-weight="bold" textLength="5.6" lengthAdjust="spacingAndGlyphs" style="stroke-width:0.7px">F</text>
<text x="464.25" y="582.75" font-size="8.2" text-anchor="middle" fill="#1e1e1e" textLength="72.3" lengthAdjust="spacingAndGlyphs">IL-18:IL-18 BP ratio</text>
<line x1="414.9" y1="588" x2="414.9" y2="656" stroke="#222" stroke-width="1.1"/>
<line x1="412.3" y1="590.8" x2="414.9" y2="590.8" stroke="#222" stroke-width="0.9"/>
<text x="408.3" y="593.07" font-size="6.3" text-anchor="end" fill="#1e1e1e">1.0</text>
<line x1="412.3" y1="603.8" x2="414.9" y2="603.8" stroke="#222" stroke-width="0.9"/>
<text x="408.3" y="606.07" font-size="6.3" text-anchor="end" fill="#1e1e1e">0.8</text>
<line x1="412.3" y1="617" x2="414.9" y2="617" stroke="#222" stroke-width="0.9"/>
<text x="408.3" y="619.27" font-size="6.3" text-anchor="end" fill="#1e1e1e">0.6</text>
<line x1="412.3" y1="630.1" x2="414.9" y2="630.1" stroke="#222" stroke-width="0.9"/>
<text x="408.3" y="632.37" font-size="6.3" text-anchor="end" fill="#1e1e1e">0.4</text>
<line x1="412.3" y1="643" x2="414.9" y2="643" stroke="#222" stroke-width="0.9"/>
<text x="408.3" y="645.27" font-size="6.3" text-anchor="end" fill="#1e1e1e">0.2</text>
<line x1="412.3" y1="655.9" x2="414.9" y2="655.9" stroke="#222" stroke-width="0.9"/>
<text x="408.3" y="658.17" font-size="6.3" text-anchor="end" fill="#1e1e1e">0.0</text>
<line x1="414.4" y1="655.9" x2="516.3" y2="655.9" stroke="#222" stroke-width="1.1"/>
<line x1="422.3" y1="655.9" x2="422.3" y2="659.1" stroke="#222" stroke-width="0.9"/>
<text x="422.3" y="667.85" font-size="6.8" text-anchor="middle" fill="#1e1e1e">0</text>
<line x1="439" y1="655.9" x2="439" y2="659.1" stroke="#222" stroke-width="0.9"/>
<text x="439" y="667.85" font-size="6.8" text-anchor="middle" fill="#1e1e1e">3</text>
<line x1="455.6" y1="655.9" x2="455.6" y2="659.1" stroke="#222" stroke-width="0.9"/>
<text x="455.6" y="667.85" font-size="6.8" text-anchor="middle" fill="#1e1e1e">7</text>
<line x1="472.4" y1="655.9" x2="472.4" y2="659.1" stroke="#222" stroke-width="0.9"/>
<text x="472.4" y="667.85" font-size="6.8" text-anchor="middle" fill="#1e1e1e">14</text>
<line x1="489.1" y1="655.9" x2="489.1" y2="659.1" stroke="#222" stroke-width="0.9"/>
<text x="489.1" y="667.85" font-size="6.8" text-anchor="middle" fill="#1e1e1e">21</text>
<line x1="505.9" y1="655.9" x2="505.9" y2="659.1" stroke="#222" stroke-width="0.9"/>
<text x="505.9" y="667.85" font-size="6.8" text-anchor="middle" fill="#1e1e1e">28</text>
<text x="464" y="679.55" font-size="8.2" text-anchor="middle" fill="#1e1e1e" textLength="54.3" lengthAdjust="spacingAndGlyphs">Days post infusion</text>
<text x="391.4" y="624.04" font-size="7.6" text-anchor="middle" fill="#1e1e1e" textLength="56.2" lengthAdjust="spacingAndGlyphs" transform="rotate(-90 391.4 621.3)">IL18: IL-18 BP ratio</text>
<line x1="419.6" y1="645.5" x2="419.6" y2="652.5" stroke="#3b6fa8" stroke-width="0.7"/>
<line x1="417.8" y1="648.8" x2="421.4" y2="648.8" stroke="#3b6fa8" stroke-width="0.7"/>
<circle cx="419.6" cy="641.8" r="1.15" fill="#0d2f5a"/>
<circle cx="419.6" cy="648.8" r="1.15" fill="#0d2f5a"/>
<circle cx="419.6" cy="651.9" r="1.15" fill="#0d2f5a"/>
<circle cx="419.6" cy="654" r="1.15" fill="#0d2f5a"/>
<line x1="423.4" y1="653" x2="428.4" y2="653" stroke="#e0d4cc" stroke-width="1.6"/>
<line x1="436.3" y1="646.5" x2="436.3" y2="653" stroke="#3b6fa8" stroke-width="0.7"/>
<line x1="434.5" y1="649.8" x2="438.1" y2="649.8" stroke="#3b6fa8" stroke-width="0.7"/>
<circle cx="436.3" cy="645.6" r="1.15" fill="#0d2f5a"/>
<circle cx="436.3" cy="648.8" r="1.15" fill="#0d2f5a"/>
<circle cx="436.3" cy="650.2" r="1.15" fill="#0d2f5a"/>
<circle cx="436.3" cy="653" r="1.15" fill="#0d2f5a"/>
<circle cx="436.3" cy="654.5" r="1.15" fill="#0d2f5a"/>
<line x1="440.1" y1="653" x2="445.1" y2="653" stroke="#e0d4cc" stroke-width="1.6"/>
<line x1="452.9" y1="646" x2="452.9" y2="650.5" stroke="#3b6fa8" stroke-width="0.7"/>
<line x1="451.1" y1="648.2" x2="454.7" y2="648.2" stroke="#3b6fa8" stroke-width="0.7"/>
<circle cx="452.9" cy="645.6" r="1.15" fill="#0d2f5a"/>
<circle cx="453.9" cy="647.7" r="1.15" fill="#0d2f5a"/>
<circle cx="451.9" cy="648.1" r="1.15" fill="#0d2f5a"/>
<circle cx="452.9" cy="649.8" r="1.15" fill="#0d2f5a"/>
<circle cx="453.9" cy="650.9" r="1.15" fill="#0d2f5a"/>
<line x1="456.7" y1="651.9" x2="461.7" y2="651.9" stroke="#e0d4cc" stroke-width="1.6"/>
<line x1="469.7" y1="637" x2="469.7" y2="645" stroke="#3b6fa8" stroke-width="0.7"/>
<line x1="467.9" y1="640.8" x2="471.5" y2="640.8" stroke="#3b6fa8" stroke-width="0.7"/>
<circle cx="469.7" cy="631.2" r="1.15" fill="#0d2f5a"/>
<circle cx="469.7" cy="640.3" r="1.15" fill="#0d2f5a"/>
<circle cx="469.7" cy="642.4" r="1.15" fill="#0d2f5a"/>
<circle cx="469.7" cy="644.5" r="1.15" fill="#0d2f5a"/>
<circle cx="469.7" cy="646" r="1.15" fill="#0d2f5a"/>
<line x1="473.5" y1="650.9" x2="478.5" y2="650.9" stroke="#e0d4cc" stroke-width="1.6"/>
<line x1="486.4" y1="622.3" x2="486.4" y2="634.5" stroke="#3b6fa8" stroke-width="0.7"/>
<line x1="484.6" y1="628.2" x2="488.2" y2="628.2" stroke="#3b6fa8" stroke-width="0.7"/>
<circle cx="486.4" cy="613.4" r="1.15" fill="#0d2f5a"/>
<circle cx="486.4" cy="622.3" r="1.15" fill="#0d2f5a"/>
<circle cx="486.4" cy="624.4" r="1.15" fill="#0d2f5a"/>
<circle cx="486.4" cy="630.8" r="1.15" fill="#0d2f5a"/>
<circle cx="486.4" cy="646.6" r="1.15" fill="#0d2f5a"/>
<line x1="490.2" y1="651.5" x2="495.2" y2="651.5" stroke="#e0d4cc" stroke-width="1.6"/>
<line x1="503.2" y1="613.4" x2="503.2" y2="643" stroke="#3b6fa8" stroke-width="0.7"/>
<line x1="500.2" y1="628.2" x2="506.2" y2="628.2" stroke="#3b6fa8" stroke-width="0.7"/>
<line x1="500.2" y1="613.4" x2="506.2" y2="613.4" stroke="#3b6fa8" stroke-width="0.7"/>
<line x1="500.2" y1="643" x2="506.2" y2="643" stroke="#3b6fa8" stroke-width="0.7"/>
<circle cx="503.2" cy="600.7" r="1.15" fill="#0d2f5a"/>
<circle cx="503.2" cy="631.8" r="1.15" fill="#0d2f5a"/>
<circle cx="503.2" cy="651.9" r="1.15" fill="#0d2f5a"/>
<line x1="507" y1="652.3" x2="512" y2="652.3" stroke="#e0d4cc" stroke-width="1.6"/>
<circle cx="429.6" cy="689.6" r="1" fill="#0d2f5a"/>
<text x="433.5" y="691.94" font-size="6.5" text-anchor="start" fill="#1e1e1e" textLength="53.8" lengthAdjust="spacingAndGlyphs">Cytopenic CAR-37</text>
<circle cx="429.6" cy="699.4" r="1" fill="#e6ddd6"/>
<text x="433.5" y="701.74" font-size="6.5" text-anchor="start" fill="#1e1e1e" textLength="66.3" lengthAdjust="spacingAndGlyphs">Non-cytopenic CAR-37</text>
<rect x="0.5" y="0.5" width="519" height="709" fill="none" stroke="#555" stroke-width="1"/>
</svg></body></html>
